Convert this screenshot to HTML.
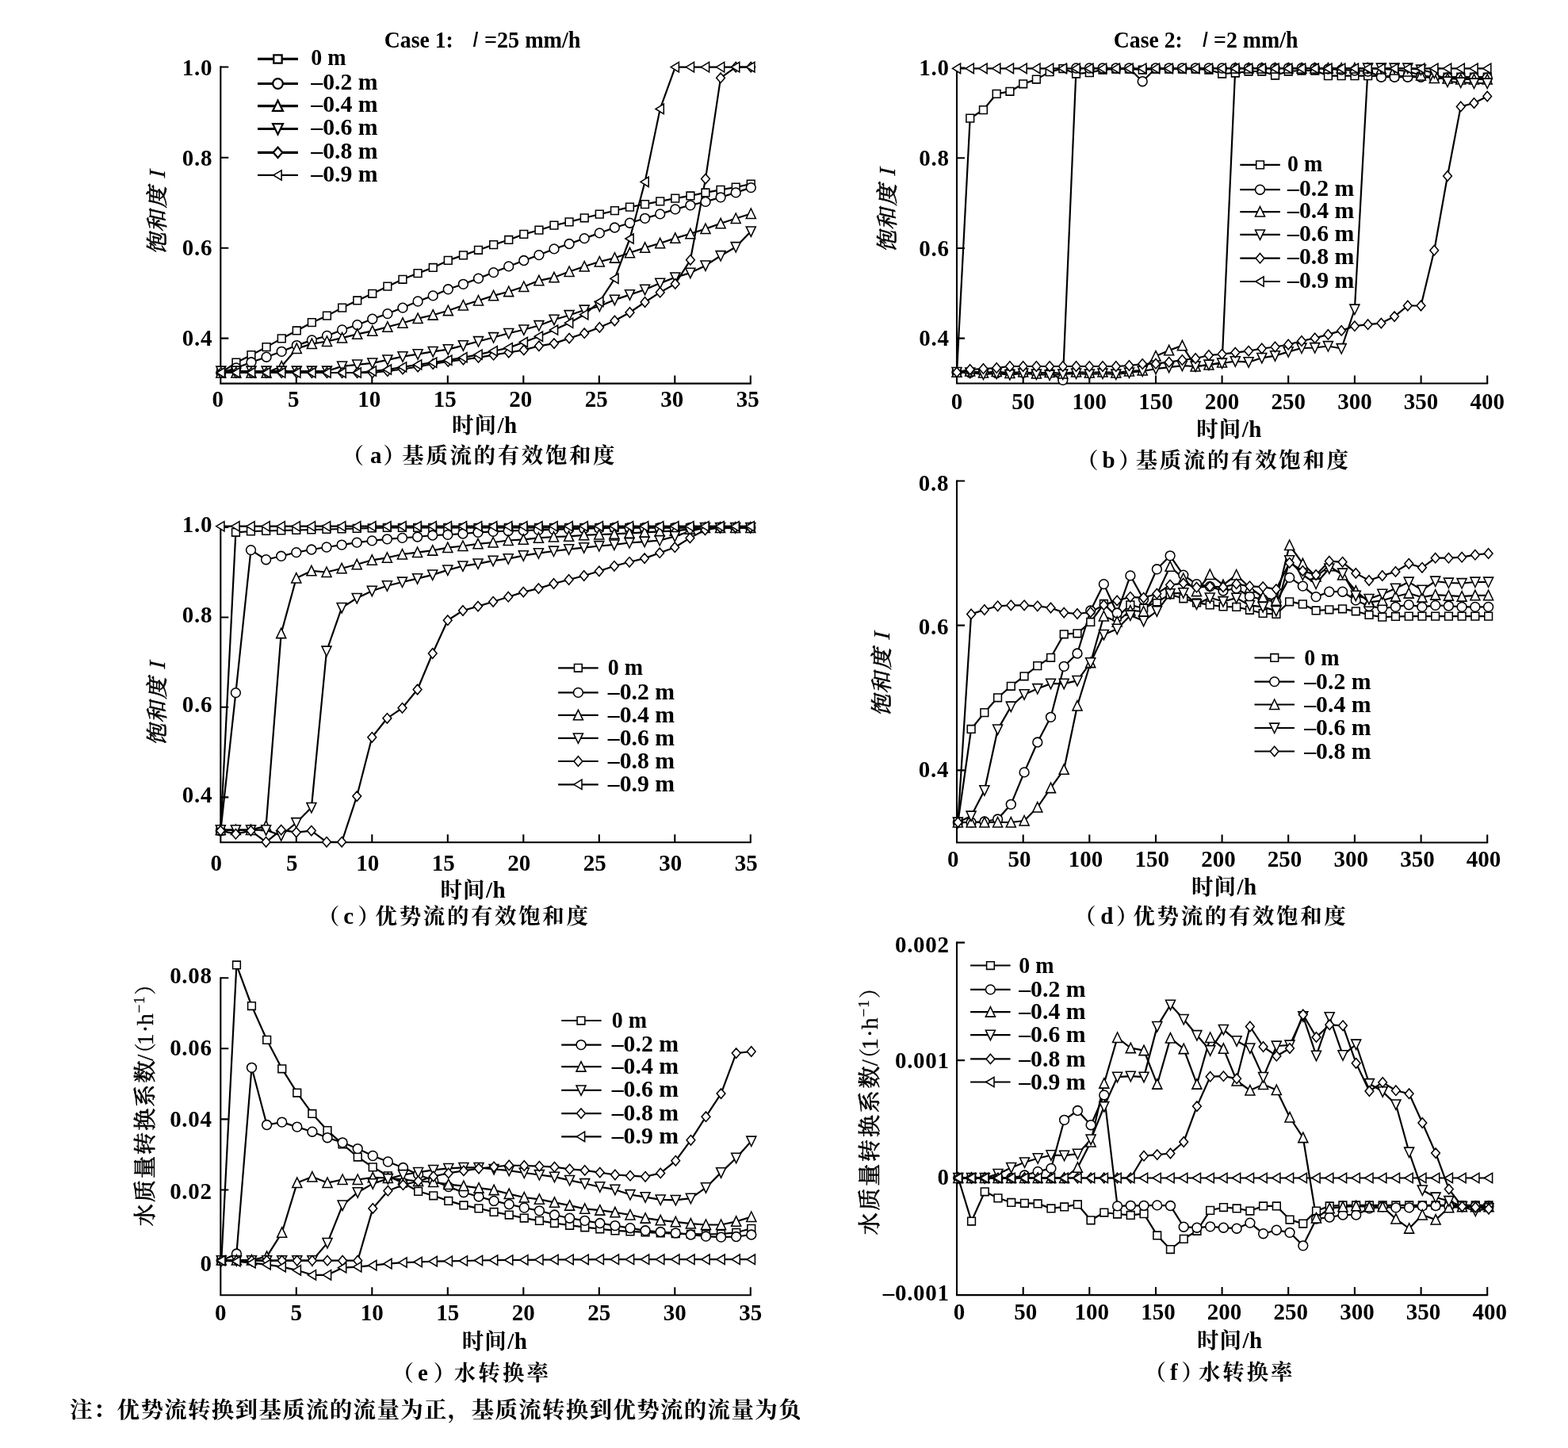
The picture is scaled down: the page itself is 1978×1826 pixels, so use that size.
<!DOCTYPE html>
<html lang="zh"><head><meta charset="utf-8"><title>figure</title><style>
html,body{margin:0;padding:0;background:#fff}
svg{display:block}
.ax{fill:none;stroke:#000;stroke-width:2.1}
.ln{fill:none;stroke:#000;stroke-width:2.2;stroke-linejoin:round}
.lg{fill:none;stroke:#000;stroke-width:2.2}
.lg2{fill:none;stroke:#000;stroke-width:3.2}
.mk.mk2{stroke-width:2.1}
.ls{letter-spacing:.7px}
.mk{fill:#fff;stroke:#000;stroke-width:1.55;stroke-linejoin:miter}
text{fill:#000}
.t{font-family:"Liberation Serif","Noto Serif CJK SC",serif;font-size:29px;font-weight:bold}
.tt{font-family:"Liberation Serif","Noto Serif CJK SC",serif;font-size:29px;font-weight:bold}
.t2{font-family:"Liberation Serif",serif;font-size:29px;font-weight:bold}
.t3{font-family:"Liberation Serif",serif;font-size:29px;font-weight:normal;font-style:normal;stroke:#000;stroke-width:.4px}
.c{font-family:"Liberation Serif","Noto Serif CJK SC",serif;font-size:27.5px;font-weight:bold}
.yl{font-family:"Liberation Serif","Noto Serif CJK SC",serif;font-size:27.5px;font-weight:400;stroke:#000;stroke-width:.7px}
.yk{font-family:"Liberation Serif","Noto Serif CJK SC",serif;font-size:28px;font-weight:400;stroke:#000;stroke-width:.7px}
.yp{font-family:"Noto Serif CJK SC",serif;font-size:27.5px;font-weight:400;stroke-width:.2px}
.t4{font-family:"Liberation Serif",serif;font-size:19px;font-weight:normal;stroke:#000;stroke-width:.3px}
.si{font-family:"Liberation Sans",sans-serif;font-size:27.5px;font-style:italic}
.it{font-family:"Liberation Serif",serif;font-size:29px;font-weight:normal;stroke:#000;stroke-width:.3px}
.m{text-anchor:middle}
.e{text-anchor:end}
</style></head><body>
<svg width="1978" height="1826" viewBox="0 0 1978 1826">
<rect width="1978" height="1826" fill="#fff"/>
<path class="ax" d="M278.3 83.3V483.6H947.8"/>
<path class="ax" d="M373.8 483.6v-10M469.3 483.6v-10M564.8 483.6v-10M660.3 483.6v-10M755.8 483.6v-10M851.3 483.6v-10M946.8 483.6v-10M278.3 84.5h10M278.3 198.7h10M278.3 312.7h10M278.3 426.6h10"/>
<text class="t m" x="274.8" y="512.6">0</text>
<text class="t m" x="370.3" y="512.6">5</text>
<text class="t m" x="465.8" y="512.6">10</text>
<text class="t m" x="561.3" y="512.6">15</text>
<text class="t m" x="656.8" y="512.6">20</text>
<text class="t m" x="752.3" y="512.6">25</text>
<text class="t m" x="847.8" y="512.6">30</text>
<text class="t m" x="943.3" y="512.6">35</text>
<text class="t e ls" x="268.2" y="95">1.0</text>
<text class="t e ls" x="268.2" y="208.6">0.8</text>
<text class="t e ls" x="268.2" y="322.3">0.6</text>
<text class="t e ls" x="268.2" y="435.9">0.4</text>
<polyline class="ln" points="278.8,470 297.9,457.2 317,447.7 336.1,437.6 355.2,426.9 374.3,417 393.4,406.7 412.5,398.2 431.6,388.1 450.7,379 469.8,370.3 488.9,361.2 508,352.3 527.1,344.6 546.2,337.5 565.3,328.4 584.4,321.9 603.5,315.3 622.6,308.6 641.7,302.5 660.8,295.4 679.9,290.2 699,284.2 718.1,279.9 737.2,274.8 756.3,270.2 775.4,265.7 794.5,261.1 813.6,257.5 832.7,253.8 851.8,250.2 870.9,246.9 890,242.9 909.1,239.3 928.2,236 947.3,232"/>
<polyline class="ln" points="278.8,470 297.9,464 317,456.8 336.1,450.2 355.2,443.3 374.3,435.6 393.4,428.9 412.5,423.5 431.6,416 450.7,409.7 469.8,402.2 488.9,395.6 508,388.1 527.1,380 546.2,372.9 565.3,364.8 584.4,358.3 603.5,351.1 622.6,343.6 641.7,335.9 660.8,328.5 679.9,321.6 699,313.9 718.1,307.5 737.2,300.6 756.3,293.9 775.4,287 794.5,281.2 813.6,275.3 832.7,269.9 851.8,263.9 870.9,258.8 890,254.4 909.1,248.8 928.2,242.9 947.3,236.6"/>
<polyline class="ln" points="278.8,470 297.9,470 317,470 336.1,470 355.2,462 374.3,439.6 393.4,433.6 412.5,430.5 431.6,426.1 450.7,421.4 469.8,417.4 488.9,412.3 508,407.3 527.1,401.6 546.2,397.2 565.3,391.7 584.4,385 603.5,379 622.6,372.9 641.7,367.7 660.8,361.5 679.9,353.8 699,349.8 718.1,342.5 737.2,336 756.3,330 775.4,325.2 794.5,318.8 813.6,312.4 832.7,306.8 851.8,300.4 870.9,294.8 890,288.6 909.1,281.8 928.2,275.5 947.3,269.5"/>
<polyline class="ln" points="278.8,468 297.9,468 317,468 336.1,468 355.2,468 374.3,468 393.4,468 412.5,468 431.6,461.9 450.7,459.9 469.8,457.8 488.9,453.8 508,449.7 527.1,446.7 546.2,443.3 565.3,440.6 584.4,435.6 603.5,430.5 622.6,425.5 641.7,420.3 660.8,415.8 679.9,410.5 699,403.2 718.1,397.5 737.2,391 756.3,386.2 775.4,378.1 794.5,371.6 813.6,365.2 832.7,357.1 851.8,349.8 870.9,344.1 890,334.9 909.1,322.5 928.2,311.5 947.3,291.8"/>
<polyline class="ln" points="278.8,470 297.9,470 317,470 336.1,470 355.2,470 374.3,470 393.4,470 412.5,470 431.6,470 450.7,470 469.8,470 488.9,468 508,465.5 527.1,462.5 546.2,459 565.3,455.8 584.4,453.5 603.5,450.8 622.6,447.7 641.7,444.5 660.8,441.4 679.9,436.3 699,433.1 718.1,426.6 737.2,420.2 756.3,412.9 775.4,404.5 794.5,394 813.6,381 832.7,368.7 851.8,357.9 870.9,327.8 890,225.6 909.1,98.2 928.2,84.6 947.3,84.6"/>
<polyline class="ln" points="278.8,470 297.9,470 317,470 336.1,470 355.2,470 374.3,470 393.4,470 412.5,470 431.6,470 450.7,470 469.8,468 488.9,466 508,462.9 527.1,459.9 546.2,457.2 565.3,454.2 584.4,450.8 603.5,447.1 622.6,442.7 641.7,438.6 660.8,431.5 679.9,424.2 699,416.1 718.1,407.2 737.2,396.7 756.3,380.5 775.4,351.4 794.5,301 813.6,229.3 832.7,137.4 851.8,84.6 870.9,84.6 890,84.6 909.1,84.6 928.2,84.6 947.3,84.6"/>
<path class="mk" d="M273.9 465.1h9.7v9.7h-9.7zM293.1 452.3h9.7v9.7h-9.7zM312.1 442.8h9.7v9.7h-9.7zM331.2 432.8h9.7v9.7h-9.7zM350.4 422h9.7v9.7h-9.7zM369.4 412.1h9.7v9.7h-9.7zM388.5 401.8h9.7v9.7h-9.7zM407.6 393.3h9.7v9.7h-9.7zM426.8 383.2h9.7v9.7h-9.7zM445.9 374.1h9.7v9.7h-9.7zM464.9 365.4h9.7v9.7h-9.7zM484 356.3h9.7v9.7h-9.7zM503.1 347.4h9.7v9.7h-9.7zM522.2 339.8h9.7v9.7h-9.7zM541.4 332.6h9.7v9.7h-9.7zM560.4 323.5h9.7v9.7h-9.7zM579.6 317h9.7v9.7h-9.7zM598.6 310.4h9.7v9.7h-9.7zM617.8 303.8h9.7v9.7h-9.7zM636.9 297.6h9.7v9.7h-9.7zM655.9 290.5h9.7v9.7h-9.7zM675.1 285.3h9.7v9.7h-9.7zM694.1 279.3h9.7v9.7h-9.7zM713.2 275h9.7v9.7h-9.7zM732.4 269.9h9.7v9.7h-9.7zM751.4 265.3h9.7v9.7h-9.7zM770.6 260.8h9.7v9.7h-9.7zM789.6 256.2h9.7v9.7h-9.7zM808.7 252.7h9.7v9.7h-9.7zM827.9 249h9.7v9.7h-9.7zM846.9 245.3h9.7v9.7h-9.7zM866.1 242.1h9.7v9.7h-9.7zM885.1 238.1h9.7v9.7h-9.7zM904.2 234.5h9.7v9.7h-9.7zM923.4 231.2h9.7v9.7h-9.7zM942.4 227.2h9.7v9.7h-9.7z"/>
<path class="mk" d="M272.9 470a5.9 5.9 0 1 0 11.8 0a5.9 5.9 0 1 0 -11.8 0zM292 464a5.9 5.9 0 1 0 11.8 0a5.9 5.9 0 1 0 -11.8 0zM311.1 456.8a5.9 5.9 0 1 0 11.8 0a5.9 5.9 0 1 0 -11.8 0zM330.2 450.2a5.9 5.9 0 1 0 11.8 0a5.9 5.9 0 1 0 -11.8 0zM349.3 443.3a5.9 5.9 0 1 0 11.8 0a5.9 5.9 0 1 0 -11.8 0zM368.4 435.6a5.9 5.9 0 1 0 11.8 0a5.9 5.9 0 1 0 -11.8 0zM387.5 428.9a5.9 5.9 0 1 0 11.8 0a5.9 5.9 0 1 0 -11.8 0zM406.6 423.5a5.9 5.9 0 1 0 11.8 0a5.9 5.9 0 1 0 -11.8 0zM425.7 416a5.9 5.9 0 1 0 11.8 0a5.9 5.9 0 1 0 -11.8 0zM444.8 409.7a5.9 5.9 0 1 0 11.8 0a5.9 5.9 0 1 0 -11.8 0zM463.9 402.2a5.9 5.9 0 1 0 11.8 0a5.9 5.9 0 1 0 -11.8 0zM483 395.6a5.9 5.9 0 1 0 11.8 0a5.9 5.9 0 1 0 -11.8 0zM502.1 388.1a5.9 5.9 0 1 0 11.8 0a5.9 5.9 0 1 0 -11.8 0zM521.2 380a5.9 5.9 0 1 0 11.8 0a5.9 5.9 0 1 0 -11.8 0zM540.3 372.9a5.9 5.9 0 1 0 11.8 0a5.9 5.9 0 1 0 -11.8 0zM559.4 364.8a5.9 5.9 0 1 0 11.8 0a5.9 5.9 0 1 0 -11.8 0zM578.5 358.3a5.9 5.9 0 1 0 11.8 0a5.9 5.9 0 1 0 -11.8 0zM597.6 351.1a5.9 5.9 0 1 0 11.8 0a5.9 5.9 0 1 0 -11.8 0zM616.7 343.6a5.9 5.9 0 1 0 11.8 0a5.9 5.9 0 1 0 -11.8 0zM635.8 335.9a5.9 5.9 0 1 0 11.8 0a5.9 5.9 0 1 0 -11.8 0zM654.9 328.5a5.9 5.9 0 1 0 11.8 0a5.9 5.9 0 1 0 -11.8 0zM674 321.6a5.9 5.9 0 1 0 11.8 0a5.9 5.9 0 1 0 -11.8 0zM693.1 313.9a5.9 5.9 0 1 0 11.8 0a5.9 5.9 0 1 0 -11.8 0zM712.2 307.5a5.9 5.9 0 1 0 11.8 0a5.9 5.9 0 1 0 -11.8 0zM731.3 300.6a5.9 5.9 0 1 0 11.8 0a5.9 5.9 0 1 0 -11.8 0zM750.4 293.9a5.9 5.9 0 1 0 11.8 0a5.9 5.9 0 1 0 -11.8 0zM769.5 287a5.9 5.9 0 1 0 11.8 0a5.9 5.9 0 1 0 -11.8 0zM788.6 281.2a5.9 5.9 0 1 0 11.8 0a5.9 5.9 0 1 0 -11.8 0zM807.7 275.3a5.9 5.9 0 1 0 11.8 0a5.9 5.9 0 1 0 -11.8 0zM826.8 269.9a5.9 5.9 0 1 0 11.8 0a5.9 5.9 0 1 0 -11.8 0zM845.9 263.9a5.9 5.9 0 1 0 11.8 0a5.9 5.9 0 1 0 -11.8 0zM865 258.8a5.9 5.9 0 1 0 11.8 0a5.9 5.9 0 1 0 -11.8 0zM884.1 254.4a5.9 5.9 0 1 0 11.8 0a5.9 5.9 0 1 0 -11.8 0zM903.2 248.8a5.9 5.9 0 1 0 11.8 0a5.9 5.9 0 1 0 -11.8 0zM922.3 242.9a5.9 5.9 0 1 0 11.8 0a5.9 5.9 0 1 0 -11.8 0zM941.4 236.6a5.9 5.9 0 1 0 11.8 0a5.9 5.9 0 1 0 -11.8 0z"/>
<path class="mk" d="M278.8 463.5L284.8 475.9L272.8 475.9zM297.9 463.5L303.9 475.9L291.9 475.9zM317 463.5L323 475.9L311 475.9zM336.1 463.5L342.1 475.9L330.1 475.9zM355.2 455.5L361.2 467.9L349.2 467.9zM374.3 433.1L380.3 445.5L368.3 445.5zM393.4 427.1L399.4 439.5L387.4 439.5zM412.5 424L418.5 436.4L406.5 436.4zM431.6 419.6L437.6 432L425.6 432zM450.7 414.9L456.7 427.3L444.7 427.3zM469.8 410.9L475.8 423.3L463.8 423.3zM488.9 405.8L494.9 418.2L482.9 418.2zM508 400.8L514 413.2L502 413.2zM527.1 395.1L533.1 407.5L521.1 407.5zM546.2 390.7L552.2 403.1L540.2 403.1zM565.3 385.2L571.3 397.6L559.3 397.6zM584.4 378.5L590.4 390.9L578.4 390.9zM603.5 372.5L609.5 384.9L597.5 384.9zM622.6 366.4L628.6 378.8L616.6 378.8zM641.7 361.2L647.7 373.6L635.7 373.6zM660.8 355L666.8 367.4L654.8 367.4zM679.9 347.3L685.9 359.7L673.9 359.7zM699 343.3L705 355.7L693 355.7zM718.1 336L724.1 348.4L712.1 348.4zM737.2 329.5L743.2 341.9L731.2 341.9zM756.3 323.5L762.3 335.9L750.3 335.9zM775.4 318.7L781.4 331.1L769.4 331.1zM794.5 312.3L800.5 324.7L788.5 324.7zM813.6 305.9L819.6 318.3L807.6 318.3zM832.7 300.3L838.7 312.7L826.7 312.7zM851.8 293.9L857.8 306.3L845.8 306.3zM870.9 288.3L876.9 300.7L864.9 300.7zM890 282.1L896 294.5L884 294.5zM909.1 275.3L915.1 287.7L903.1 287.7zM928.2 269L934.2 281.4L922.2 281.4zM947.3 263L953.3 275.4L941.3 275.4z"/>
<path class="mk" d="M278.8 474.5L284.8 462.1L272.8 462.1zM297.9 474.5L303.9 462.1L291.9 462.1zM317 474.5L323 462.1L311 462.1zM336.1 474.5L342.1 462.1L330.1 462.1zM355.2 474.5L361.2 462.1L349.2 462.1zM374.3 474.5L380.3 462.1L368.3 462.1zM393.4 474.5L399.4 462.1L387.4 462.1zM412.5 474.5L418.5 462.1L406.5 462.1zM431.6 468.4L437.6 456L425.6 456zM450.7 466.4L456.7 454L444.7 454zM469.8 464.3L475.8 451.9L463.8 451.9zM488.9 460.3L494.9 447.9L482.9 447.9zM508 456.2L514 443.8L502 443.8zM527.1 453.2L533.1 440.8L521.1 440.8zM546.2 449.8L552.2 437.4L540.2 437.4zM565.3 447.1L571.3 434.7L559.3 434.7zM584.4 442.1L590.4 429.7L578.4 429.7zM603.5 437L609.5 424.6L597.5 424.6zM622.6 432L628.6 419.6L616.6 419.6zM641.7 426.8L647.7 414.4L635.7 414.4zM660.8 422.3L666.8 409.9L654.8 409.9zM679.9 417L685.9 404.6L673.9 404.6zM699 409.7L705 397.3L693 397.3zM718.1 404L724.1 391.6L712.1 391.6zM737.2 397.5L743.2 385.1L731.2 385.1zM756.3 392.7L762.3 380.3L750.3 380.3zM775.4 384.6L781.4 372.2L769.4 372.2zM794.5 378.1L800.5 365.7L788.5 365.7zM813.6 371.7L819.6 359.3L807.6 359.3zM832.7 363.6L838.7 351.2L826.7 351.2zM851.8 356.3L857.8 343.9L845.8 343.9zM870.9 350.6L876.9 338.2L864.9 338.2zM890 341.4L896 329L884 329zM909.1 329L915.1 316.6L903.1 316.6zM928.2 318L934.2 305.6L922.2 305.6zM947.3 298.3L953.3 285.9L941.3 285.9z"/>
<path class="mk" d="M278.8 463.8L284.2 470L278.8 476.2L273.4 470zM297.9 463.8L303.3 470L297.9 476.2L292.6 470zM317 463.8L322.4 470L317 476.2L311.6 470zM336.1 463.8L341.5 470L336.1 476.2L330.8 470zM355.2 463.8L360.6 470L355.2 476.2L349.9 470zM374.3 463.8L379.7 470L374.3 476.2L368.9 470zM393.4 463.8L398.8 470L393.4 476.2L388 470zM412.5 463.8L417.9 470L412.5 476.2L407.1 470zM431.6 463.8L437 470L431.6 476.2L426.2 470zM450.7 463.8L456.1 470L450.7 476.2L445.4 470zM469.8 463.8L475.2 470L469.8 476.2L464.4 470zM488.9 461.8L494.2 468L488.9 474.2L483.5 468zM508 459.3L513.4 465.5L508 471.7L502.6 465.5zM527.1 456.3L532.5 462.5L527.1 468.7L521.8 462.5zM546.2 452.8L551.6 459L546.2 465.2L540.9 459zM565.3 449.6L570.6 455.8L565.3 462L559.9 455.8zM584.4 447.3L589.8 453.5L584.4 459.7L579.1 453.5zM603.5 444.6L608.9 450.8L603.5 457L598.1 450.8zM622.6 441.5L628 447.7L622.6 453.9L617.2 447.7zM641.7 438.3L647.1 444.5L641.7 450.7L636.4 444.5zM660.8 435.2L666.1 441.4L660.8 447.6L655.4 441.4zM679.9 430.1L685.3 436.3L679.9 442.5L674.6 436.3zM699 426.9L704.4 433.1L699 439.3L693.6 433.1zM718.1 420.4L723.5 426.6L718.1 432.8L712.8 426.6zM737.2 414L742.6 420.2L737.2 426.4L731.9 420.2zM756.3 406.7L761.6 412.9L756.3 419.1L750.9 412.9zM775.4 398.3L780.8 404.5L775.4 410.7L770.1 404.5zM794.5 387.8L799.9 394L794.5 400.2L789.1 394zM813.6 374.8L818.9 381L813.6 387.2L808.2 381zM832.7 362.5L838.1 368.7L832.7 374.9L827.4 368.7zM851.8 351.7L857.1 357.9L851.8 364.1L846.4 357.9zM870.9 321.6L876.3 327.8L870.9 334L865.6 327.8zM890 219.4L895.4 225.6L890 231.8L884.6 225.6zM909.1 92L914.4 98.2L909.1 104.4L903.7 98.2zM928.2 78.4L933.6 84.6L928.2 90.8L922.9 84.6zM947.3 78.4L952.6 84.6L947.3 90.8L941.9 84.6z"/>
<path class="mk" d="M273.2 470L283.4 463.9L283.4 476.1zM292.3 470L302.5 463.9L302.5 476.1zM311.4 470L321.6 463.9L321.6 476.1zM330.5 470L340.7 463.9L340.7 476.1zM349.6 470L359.8 463.9L359.8 476.1zM368.7 470L378.9 463.9L378.9 476.1zM387.8 470L398 463.9L398 476.1zM406.9 470L417.1 463.9L417.1 476.1zM426 470L436.2 463.9L436.2 476.1zM445.1 470L455.3 463.9L455.3 476.1zM464.2 468L474.4 461.9L474.4 474.1zM483.3 466L493.5 459.9L493.5 472.1zM502.4 462.9L512.6 456.8L512.6 469zM521.5 459.9L531.7 453.8L531.7 466zM540.6 457.2L550.8 451.1L550.8 463.3zM559.7 454.2L569.9 448.1L569.9 460.3zM578.8 450.8L589 444.7L589 456.9zM597.9 447.1L608.1 441L608.1 453.2zM617 442.7L627.2 436.6L627.2 448.8zM636.1 438.6L646.3 432.5L646.3 444.8zM655.2 431.5L665.4 425.4L665.4 437.6zM674.3 424.2L684.5 418.1L684.5 430.3zM693.4 416.1L703.6 410L703.6 422.2zM712.5 407.2L722.7 401.1L722.7 413.3zM731.6 396.7L741.8 390.6L741.8 402.8zM750.7 380.5L760.9 374.4L760.9 386.6zM769.8 351.4L780 345.2L780 357.5zM788.9 301L799.1 294.9L799.1 307.1zM808 229.3L818.2 223.2L818.2 235.5zM827.1 137.4L837.3 131.2L837.3 143.6zM846.2 84.6L856.4 78.4L856.4 90.8zM865.3 84.6L875.5 78.4L875.5 90.8zM884.4 84.6L894.6 78.4L894.6 90.8zM903.5 84.6L913.7 78.4L913.7 90.8zM922.6 84.6L932.8 78.4L932.8 90.8zM941.7 84.6L951.9 78.4L951.9 90.8z"/>
<line class="lg2" x1="325" y1="74.4" x2="375.9" y2="74.4"/>
<path class="mk mk2" transform="translate(350.5 74.4) scale(1.07) translate(-350.5 -74.4)" d="M345.6 69.6h9.7v9.7h-9.7z"/>
<text class="t" x="392.3" y="82.1" textLength="44.3" lengthAdjust="spacingAndGlyphs">0 m</text>
<line class="lg2" x1="325" y1="105.5" x2="375.9" y2="105.5"/>
<path class="mk mk2" transform="translate(350.5 105.5) scale(1.07) translate(-350.5 -105.5)" d="M344.6 105.5a5.9 5.9 0 1 0 11.8 0a5.9 5.9 0 1 0 -11.8 0z"/>
<text class="t" x="392.3" y="113.2" textLength="84.3" lengthAdjust="spacingAndGlyphs">–0.2 m</text>
<line class="lg2" x1="325" y1="133.6" x2="375.9" y2="133.6"/>
<path class="mk mk2" transform="translate(350.5 133.6) scale(1.07) translate(-350.5 -133.6)" d="M350.5 127.1L356.5 139.5L344.5 139.5z"/>
<text class="t" x="392.3" y="141.3" textLength="84.3" lengthAdjust="spacingAndGlyphs">–0.4 m</text>
<line class="lg2" x1="325" y1="162.5" x2="375.9" y2="162.5"/>
<path class="mk mk2" transform="translate(350.5 162.5) scale(1.07) translate(-350.5 -162.5)" d="M350.5 169L356.5 156.6L344.5 156.6z"/>
<text class="t" x="392.3" y="170.2" textLength="84.3" lengthAdjust="spacingAndGlyphs">–0.6 m</text>
<line class="lg2" x1="325" y1="192.3" x2="375.9" y2="192.3"/>
<path class="mk mk2" transform="translate(350.5 192.3) scale(1.07) translate(-350.5 -192.3)" d="M350.5 186.1L355.9 192.3L350.5 198.5L345.1 192.3z"/>
<text class="t" x="392.3" y="200" textLength="84.3" lengthAdjust="spacingAndGlyphs">–0.8 m</text>
<line class="lg" x1="325" y1="220.9" x2="375.9" y2="220.9"/>
<path class="mk" d="M344.9 220.9L355.1 214.8L355.1 227.1z"/>
<text class="t" x="392.3" y="228.6" textLength="84.3" lengthAdjust="spacingAndGlyphs">–0.9 m</text>
<text class="tt" x="484.8" y="59.7" textLength="87" lengthAdjust="spacingAndGlyphs">Case 1:</text>
<text class="si" x="595.8" y="59.3">I</text>
<text class="tt" x="611" y="59.7" textLength="121.5" lengthAdjust="spacingAndGlyphs">=25 mm/h</text>
<text class="yl" transform="translate(207.8 321) rotate(-90) skewX(-13)" x="0 28.6 58.5 95.5">饱和度<tspan class="it">I</tspan></text>
<text class="c" y="546.3" x="570 598.5 627.5 636">时间<tspan class="t2">/h</tspan></text>
<text class="c" y="583.8" x="431.5 467 483.5">（<tspan class="t2">a</tspan>）</text>
<text class="c" y="583.8" x="507.3 537.4 567.5 597.6 627.7 657.8 687.9 718 748.1">基质流的有效饱和度</text>
<path class="ax" d="M1207 84.5V483.5H1877.2"/>
<path class="ax" d="M1290.7 483.5v-10M1374.3 483.5v-10M1458 483.5v-10M1541.6 483.5v-10M1625.2 483.5v-10M1708.9 483.5v-10M1792.6 483.5v-10M1876.2 483.5v-10M1207 85.5h10M1207 199.2h10M1207 313h10M1207 426.6h10"/>
<text class="t m" x="1207" y="515.7">0</text>
<text class="t m" x="1290.7" y="515.7">50</text>
<text class="t m" x="1374.3" y="515.7">100</text>
<text class="t m" x="1458" y="515.7">150</text>
<text class="t m" x="1541.6" y="515.7">200</text>
<text class="t m" x="1625.2" y="515.7">250</text>
<text class="t m" x="1708.9" y="515.7">300</text>
<text class="t m" x="1792.6" y="515.7">350</text>
<text class="t m" x="1876.2" y="515.7">400</text>
<text class="t e ls" x="1197.7" y="95.4">1.0</text>
<text class="t e ls" x="1197.7" y="209.1">0.8</text>
<text class="t e ls" x="1197.7" y="322.7">0.6</text>
<text class="t e ls" x="1197.7" y="436.4">0.4</text>
<polyline class="ln" points="1207,469.4 1223.7,149.2 1240.5,138.5 1257.2,118.3 1273.9,115.2 1290.7,105.7 1307.4,100.1 1324.1,90.6 1340.8,86.5 1357.6,93 1374.3,91.6 1391,88 1407.8,87 1424.5,87 1441.2,88 1458,87 1474.7,87 1491.4,87 1508.1,87 1524.9,88 1541.6,93 1558.3,92 1575.1,90 1591.8,90 1608.5,95 1625.2,90 1642,89 1658.7,89 1675.4,95.6 1692.2,95.6 1708.9,95.6 1725.6,95.6 1742.4,96 1759.1,96 1775.8,96 1792.5,96 1809.3,96.5 1826,97 1842.7,97 1859.5,97 1876.2,97"/>
<polyline class="ln" points="1207,469.4 1223.7,470 1240.5,469.5 1257.2,470.5 1273.9,469.5 1290.7,470 1307.4,470.5 1324.1,470 1340.8,479.3 1357.6,86 1374.3,86 1391,86 1407.8,86 1424.5,86 1441.2,102.7 1458,86 1474.7,86 1491.4,86 1508.1,86 1524.9,86 1541.6,86 1558.3,86 1575.1,86 1591.8,86 1608.5,86 1625.2,86 1642,86 1658.7,86 1675.4,87 1692.2,88 1708.9,89 1725.6,90 1742.4,97.2 1759.1,97.2 1775.8,97.2 1792.5,97.2 1809.3,98 1826,98 1842.7,98 1859.5,98 1876.2,98"/>
<polyline class="ln" points="1207,469.4 1223.7,468 1240.5,470 1257.2,468.5 1273.9,470.5 1290.7,469 1307.4,471 1324.1,469.5 1340.8,471 1357.6,469 1374.3,470 1391,469 1407.8,470 1424.5,468 1441.2,467 1458,449 1474.7,441.9 1491.4,435.8 1508.1,462.1 1524.9,460.1 1541.6,457.1 1558.3,86 1575.1,86 1591.8,86 1608.5,86 1625.2,86 1642,86 1658.7,86 1675.4,86 1692.2,86 1708.9,86 1725.6,86 1742.4,87 1759.1,88 1775.8,90 1792.5,95 1809.3,98.6 1826,99 1842.7,100 1859.5,100 1876.2,100"/>
<polyline class="ln" points="1207,469.4 1223.7,470 1240.5,472 1257.2,471 1273.9,472.5 1290.7,471 1307.4,472 1324.1,473 1340.8,472 1357.6,471 1374.3,472 1391,471 1407.8,472 1424.5,470 1441.2,468 1458,465.2 1474.7,463.1 1491.4,461.1 1508.1,462 1524.9,460 1541.6,458 1558.3,455.7 1575.1,456.7 1591.8,451.3 1608.5,448.6 1625.2,443.6 1642,439 1658.7,438.5 1675.4,436.5 1692.2,439.5 1708.9,390 1725.6,86 1742.4,86 1759.1,86 1775.8,86 1792.5,88 1809.3,92 1826,103 1842.7,104 1859.5,105 1876.2,105"/>
<polyline class="ln" points="1207,469.4 1223.7,466 1240.5,465 1257.2,464 1273.9,462 1290.7,462 1307.4,462 1324.1,462 1340.8,462 1357.6,462 1374.3,462 1391,462 1407.8,462 1424.5,461 1441.2,459 1458,458.7 1474.7,456.7 1491.4,454 1508.1,452 1524.9,448 1541.6,446.6 1558.3,444.6 1575.1,442.6 1591.8,439.5 1608.5,437.5 1625.2,434.5 1642,430 1658.7,426.4 1675.4,421.9 1692.2,416.9 1708.9,411.2 1725.6,409.2 1742.4,407.6 1759.1,399.1 1775.8,385.5 1792.5,385.5 1809.3,315.7 1826,222 1842.7,134.4 1859.5,130 1876.2,121.5"/>
<polyline class="ln" points="1207,86.3 1223.7,86.3 1240.5,86.3 1257.2,86.3 1273.9,86.3 1290.7,86.3 1307.4,86.3 1324.1,86.3 1340.8,86.3 1357.6,86.3 1374.3,86.3 1391,86.3 1407.8,86.3 1424.5,86.3 1441.2,86.3 1458,86.3 1474.7,86.3 1491.4,86.3 1508.1,86.3 1524.9,86.3 1541.6,86.3 1558.3,86.3 1575.1,86.3 1591.8,86.3 1608.5,86.3 1625.2,86.3 1642,86.3 1658.7,86.3 1675.4,86.3 1692.2,86.3 1708.9,86.3 1725.6,86.3 1742.4,86.3 1759.1,86.3 1775.8,86.3 1792.5,86.3 1809.3,86.3 1826,86.3 1842.7,86.3 1859.5,86.3 1876.2,86.3"/>
<path class="mk" d="M1202.2 464.5h9.7v9.7h-9.7zM1218.9 144.3h9.7v9.7h-9.7zM1235.6 133.7h9.7v9.7h-9.7zM1252.3 113.5h9.7v9.7h-9.7zM1269.1 110.4h9.7v9.7h-9.7zM1285.8 100.9h9.7v9.7h-9.7zM1302.5 95.2h9.7v9.7h-9.7zM1319.3 85.8h9.7v9.7h-9.7zM1336 81.7h9.7v9.7h-9.7zM1352.7 88.2h9.7v9.7h-9.7zM1369.5 86.8h9.7v9.7h-9.7zM1386.2 83.2h9.7v9.7h-9.7zM1402.9 82.2h9.7v9.7h-9.7zM1419.6 82.2h9.7v9.7h-9.7zM1436.4 83.2h9.7v9.7h-9.7zM1453.1 82.2h9.7v9.7h-9.7zM1469.8 82.2h9.7v9.7h-9.7zM1486.6 82.2h9.7v9.7h-9.7zM1503.3 82.2h9.7v9.7h-9.7zM1520 83.2h9.7v9.7h-9.7zM1536.8 88.2h9.7v9.7h-9.7zM1553.5 87.2h9.7v9.7h-9.7zM1570.2 85.2h9.7v9.7h-9.7zM1586.9 85.2h9.7v9.7h-9.7zM1603.7 90.2h9.7v9.7h-9.7zM1620.4 85.2h9.7v9.7h-9.7zM1637.1 84.2h9.7v9.7h-9.7zM1653.9 84.2h9.7v9.7h-9.7zM1670.6 90.8h9.7v9.7h-9.7zM1687.3 90.8h9.7v9.7h-9.7zM1704.1 90.8h9.7v9.7h-9.7zM1720.8 90.8h9.7v9.7h-9.7zM1737.5 91.2h9.7v9.7h-9.7zM1754.2 91.2h9.7v9.7h-9.7zM1771 91.2h9.7v9.7h-9.7zM1787.7 91.2h9.7v9.7h-9.7zM1804.4 91.7h9.7v9.7h-9.7zM1821.2 92.2h9.7v9.7h-9.7zM1837.9 92.2h9.7v9.7h-9.7zM1854.6 92.2h9.7v9.7h-9.7zM1871.4 92.2h9.7v9.7h-9.7z"/>
<path class="mk" d="M1201.1 469.4a5.9 5.9 0 1 0 11.8 0a5.9 5.9 0 1 0 -11.8 0zM1217.8 470a5.9 5.9 0 1 0 11.8 0a5.9 5.9 0 1 0 -11.8 0zM1234.6 469.5a5.9 5.9 0 1 0 11.8 0a5.9 5.9 0 1 0 -11.8 0zM1251.3 470.5a5.9 5.9 0 1 0 11.8 0a5.9 5.9 0 1 0 -11.8 0zM1268 469.5a5.9 5.9 0 1 0 11.8 0a5.9 5.9 0 1 0 -11.8 0zM1284.8 470a5.9 5.9 0 1 0 11.8 0a5.9 5.9 0 1 0 -11.8 0zM1301.5 470.5a5.9 5.9 0 1 0 11.8 0a5.9 5.9 0 1 0 -11.8 0zM1318.2 470a5.9 5.9 0 1 0 11.8 0a5.9 5.9 0 1 0 -11.8 0zM1334.9 479.3a5.9 5.9 0 1 0 11.8 0a5.9 5.9 0 1 0 -11.8 0zM1351.7 86a5.9 5.9 0 1 0 11.8 0a5.9 5.9 0 1 0 -11.8 0zM1368.4 86a5.9 5.9 0 1 0 11.8 0a5.9 5.9 0 1 0 -11.8 0zM1385.1 86a5.9 5.9 0 1 0 11.8 0a5.9 5.9 0 1 0 -11.8 0zM1401.9 86a5.9 5.9 0 1 0 11.8 0a5.9 5.9 0 1 0 -11.8 0zM1418.6 86a5.9 5.9 0 1 0 11.8 0a5.9 5.9 0 1 0 -11.8 0zM1435.3 102.7a5.9 5.9 0 1 0 11.8 0a5.9 5.9 0 1 0 -11.8 0zM1452 86a5.9 5.9 0 1 0 11.8 0a5.9 5.9 0 1 0 -11.8 0zM1468.8 86a5.9 5.9 0 1 0 11.8 0a5.9 5.9 0 1 0 -11.8 0zM1485.5 86a5.9 5.9 0 1 0 11.8 0a5.9 5.9 0 1 0 -11.8 0zM1502.2 86a5.9 5.9 0 1 0 11.8 0a5.9 5.9 0 1 0 -11.8 0zM1519 86a5.9 5.9 0 1 0 11.8 0a5.9 5.9 0 1 0 -11.8 0zM1535.7 86a5.9 5.9 0 1 0 11.8 0a5.9 5.9 0 1 0 -11.8 0zM1552.4 86a5.9 5.9 0 1 0 11.8 0a5.9 5.9 0 1 0 -11.8 0zM1569.2 86a5.9 5.9 0 1 0 11.8 0a5.9 5.9 0 1 0 -11.8 0zM1585.9 86a5.9 5.9 0 1 0 11.8 0a5.9 5.9 0 1 0 -11.8 0zM1602.6 86a5.9 5.9 0 1 0 11.8 0a5.9 5.9 0 1 0 -11.8 0zM1619.3 86a5.9 5.9 0 1 0 11.8 0a5.9 5.9 0 1 0 -11.8 0zM1636.1 86a5.9 5.9 0 1 0 11.8 0a5.9 5.9 0 1 0 -11.8 0zM1652.8 86a5.9 5.9 0 1 0 11.8 0a5.9 5.9 0 1 0 -11.8 0zM1669.5 87a5.9 5.9 0 1 0 11.8 0a5.9 5.9 0 1 0 -11.8 0zM1686.3 88a5.9 5.9 0 1 0 11.8 0a5.9 5.9 0 1 0 -11.8 0zM1703 89a5.9 5.9 0 1 0 11.8 0a5.9 5.9 0 1 0 -11.8 0zM1719.7 90a5.9 5.9 0 1 0 11.8 0a5.9 5.9 0 1 0 -11.8 0zM1736.5 97.2a5.9 5.9 0 1 0 11.8 0a5.9 5.9 0 1 0 -11.8 0zM1753.2 97.2a5.9 5.9 0 1 0 11.8 0a5.9 5.9 0 1 0 -11.8 0zM1769.9 97.2a5.9 5.9 0 1 0 11.8 0a5.9 5.9 0 1 0 -11.8 0zM1786.6 97.2a5.9 5.9 0 1 0 11.8 0a5.9 5.9 0 1 0 -11.8 0zM1803.4 98a5.9 5.9 0 1 0 11.8 0a5.9 5.9 0 1 0 -11.8 0zM1820.1 98a5.9 5.9 0 1 0 11.8 0a5.9 5.9 0 1 0 -11.8 0zM1836.8 98a5.9 5.9 0 1 0 11.8 0a5.9 5.9 0 1 0 -11.8 0zM1853.6 98a5.9 5.9 0 1 0 11.8 0a5.9 5.9 0 1 0 -11.8 0zM1870.3 98a5.9 5.9 0 1 0 11.8 0a5.9 5.9 0 1 0 -11.8 0z"/>
<path class="mk" d="M1207 462.9L1213 475.3L1201 475.3zM1223.7 461.5L1229.7 473.9L1217.7 473.9zM1240.5 463.5L1246.5 475.9L1234.5 475.9zM1257.2 462L1263.2 474.4L1251.2 474.4zM1273.9 464L1279.9 476.4L1267.9 476.4zM1290.7 462.5L1296.7 474.9L1284.7 474.9zM1307.4 464.5L1313.4 476.9L1301.4 476.9zM1324.1 463L1330.1 475.4L1318.1 475.4zM1340.8 464.5L1346.8 476.9L1334.8 476.9zM1357.6 462.5L1363.6 474.9L1351.6 474.9zM1374.3 463.5L1380.3 475.9L1368.3 475.9zM1391 462.5L1397 474.9L1385 474.9zM1407.8 463.5L1413.8 475.9L1401.8 475.9zM1424.5 461.5L1430.5 473.9L1418.5 473.9zM1441.2 460.5L1447.2 472.9L1435.2 472.9zM1458 442.5L1464 454.9L1452 454.9zM1474.7 435.4L1480.7 447.8L1468.7 447.8zM1491.4 429.3L1497.4 441.7L1485.4 441.7zM1508.1 455.6L1514.1 468L1502.1 468zM1524.9 453.6L1530.9 466L1518.9 466zM1541.6 450.6L1547.6 463L1535.6 463zM1558.3 79.5L1564.3 91.9L1552.3 91.9zM1575.1 79.5L1581.1 91.9L1569.1 91.9zM1591.8 79.5L1597.8 91.9L1585.8 91.9zM1608.5 79.5L1614.5 91.9L1602.5 91.9zM1625.2 79.5L1631.2 91.9L1619.2 91.9zM1642 79.5L1648 91.9L1636 91.9zM1658.7 79.5L1664.7 91.9L1652.7 91.9zM1675.4 79.5L1681.4 91.9L1669.4 91.9zM1692.2 79.5L1698.2 91.9L1686.2 91.9zM1708.9 79.5L1714.9 91.9L1702.9 91.9zM1725.6 79.5L1731.6 91.9L1719.6 91.9zM1742.4 80.5L1748.4 92.9L1736.4 92.9zM1759.1 81.5L1765.1 93.9L1753.1 93.9zM1775.8 83.5L1781.8 95.9L1769.8 95.9zM1792.5 88.5L1798.5 100.9L1786.5 100.9zM1809.3 92.1L1815.3 104.5L1803.3 104.5zM1826 92.5L1832 104.9L1820 104.9zM1842.7 93.5L1848.7 105.9L1836.7 105.9zM1859.5 93.5L1865.5 105.9L1853.5 105.9zM1876.2 93.5L1882.2 105.9L1870.2 105.9z"/>
<path class="mk" d="M1207 475.9L1213 463.5L1201 463.5zM1223.7 476.5L1229.7 464.1L1217.7 464.1zM1240.5 478.5L1246.5 466.1L1234.5 466.1zM1257.2 477.5L1263.2 465.1L1251.2 465.1zM1273.9 479L1279.9 466.6L1267.9 466.6zM1290.7 477.5L1296.7 465.1L1284.7 465.1zM1307.4 478.5L1313.4 466.1L1301.4 466.1zM1324.1 479.5L1330.1 467.1L1318.1 467.1zM1340.8 478.5L1346.8 466.1L1334.8 466.1zM1357.6 477.5L1363.6 465.1L1351.6 465.1zM1374.3 478.5L1380.3 466.1L1368.3 466.1zM1391 477.5L1397 465.1L1385 465.1zM1407.8 478.5L1413.8 466.1L1401.8 466.1zM1424.5 476.5L1430.5 464.1L1418.5 464.1zM1441.2 474.5L1447.2 462.1L1435.2 462.1zM1458 471.7L1464 459.3L1452 459.3zM1474.7 469.6L1480.7 457.2L1468.7 457.2zM1491.4 467.6L1497.4 455.2L1485.4 455.2zM1508.1 468.5L1514.1 456.1L1502.1 456.1zM1524.9 466.5L1530.9 454.1L1518.9 454.1zM1541.6 464.5L1547.6 452.1L1535.6 452.1zM1558.3 462.2L1564.3 449.8L1552.3 449.8zM1575.1 463.2L1581.1 450.8L1569.1 450.8zM1591.8 457.8L1597.8 445.4L1585.8 445.4zM1608.5 455.1L1614.5 442.7L1602.5 442.7zM1625.2 450.1L1631.2 437.7L1619.2 437.7zM1642 445.5L1648 433.1L1636 433.1zM1658.7 445L1664.7 432.6L1652.7 432.6zM1675.4 443L1681.4 430.6L1669.4 430.6zM1692.2 446L1698.2 433.6L1686.2 433.6zM1708.9 396.5L1714.9 384.1L1702.9 384.1zM1725.6 92.5L1731.6 80.1L1719.6 80.1zM1742.4 92.5L1748.4 80.1L1736.4 80.1zM1759.1 92.5L1765.1 80.1L1753.1 80.1zM1775.8 92.5L1781.8 80.1L1769.8 80.1zM1792.5 94.5L1798.5 82.1L1786.5 82.1zM1809.3 98.5L1815.3 86.1L1803.3 86.1zM1826 109.5L1832 97.1L1820 97.1zM1842.7 110.5L1848.7 98.1L1836.7 98.1zM1859.5 111.5L1865.5 99.1L1853.5 99.1zM1876.2 111.5L1882.2 99.1L1870.2 99.1z"/>
<path class="mk" d="M1207 463.2L1212.3 469.4L1207 475.6L1201.7 469.4zM1223.7 459.8L1229.1 466L1223.7 472.2L1218.4 466zM1240.5 458.8L1245.8 465L1240.5 471.2L1235.1 465zM1257.2 457.8L1262.5 464L1257.2 470.2L1251.8 464zM1273.9 455.8L1279.3 462L1273.9 468.2L1268.6 462zM1290.7 455.8L1296 462L1290.7 468.2L1285.3 462zM1307.4 455.8L1312.7 462L1307.4 468.2L1302 462zM1324.1 455.8L1329.5 462L1324.1 468.2L1318.8 462zM1340.8 455.8L1346.2 462L1340.8 468.2L1335.5 462zM1357.6 455.8L1362.9 462L1357.6 468.2L1352.2 462zM1374.3 455.8L1379.6 462L1374.3 468.2L1369 462zM1391 455.8L1396.4 462L1391 468.2L1385.7 462zM1407.8 455.8L1413.1 462L1407.8 468.2L1402.4 462zM1424.5 454.8L1429.8 461L1424.5 467.2L1419.1 461zM1441.2 452.8L1446.6 459L1441.2 465.2L1435.9 459zM1458 452.5L1463.3 458.7L1458 464.9L1452.6 458.7zM1474.7 450.5L1480 456.7L1474.7 462.9L1469.3 456.7zM1491.4 447.8L1496.8 454L1491.4 460.2L1486.1 454zM1508.1 445.8L1513.5 452L1508.1 458.2L1502.8 452zM1524.9 441.8L1530.2 448L1524.9 454.2L1519.5 448zM1541.6 440.4L1546.9 446.6L1541.6 452.8L1536.2 446.6zM1558.3 438.4L1563.7 444.6L1558.3 450.8L1553 444.6zM1575.1 436.4L1580.4 442.6L1575.1 448.8L1569.7 442.6zM1591.8 433.3L1597.1 439.5L1591.8 445.7L1586.4 439.5zM1608.5 431.3L1613.9 437.5L1608.5 443.7L1603.2 437.5zM1625.2 428.3L1630.6 434.5L1625.2 440.7L1619.9 434.5zM1642 423.8L1647.3 430L1642 436.2L1636.6 430zM1658.7 420.2L1664.1 426.4L1658.7 432.6L1653.4 426.4zM1675.4 415.7L1680.8 421.9L1675.4 428.1L1670.1 421.9zM1692.2 410.7L1697.5 416.9L1692.2 423.1L1686.8 416.9zM1708.9 405L1714.2 411.2L1708.9 417.4L1703.6 411.2zM1725.6 403L1731 409.2L1725.6 415.4L1720.3 409.2zM1742.4 401.4L1747.7 407.6L1742.4 413.8L1737 407.6zM1759.1 392.9L1764.4 399.1L1759.1 405.3L1753.7 399.1zM1775.8 379.3L1781.2 385.5L1775.8 391.7L1770.5 385.5zM1792.5 379.3L1797.9 385.5L1792.5 391.7L1787.2 385.5zM1809.3 309.5L1814.6 315.7L1809.3 321.9L1803.9 315.7zM1826 215.8L1831.4 222L1826 228.2L1820.7 222zM1842.7 128.2L1848.1 134.4L1842.7 140.6L1837.4 134.4zM1859.5 123.8L1864.8 130L1859.5 136.2L1854.1 130zM1876.2 115.3L1881.5 121.5L1876.2 127.7L1870.9 121.5z"/>
<path class="mk" d="M1201.4 86.3L1211.6 80.1L1211.6 92.5zM1218.1 86.3L1228.3 80.1L1228.3 92.5zM1234.9 86.3L1245.1 80.1L1245.1 92.5zM1251.6 86.3L1261.8 80.1L1261.8 92.5zM1268.3 86.3L1278.5 80.1L1278.5 92.5zM1285.1 86.3L1295.2 80.1L1295.2 92.5zM1301.8 86.3L1312 80.1L1312 92.5zM1318.5 86.3L1328.7 80.1L1328.7 92.5zM1335.2 86.3L1345.4 80.1L1345.4 92.5zM1352 86.3L1362.2 80.1L1362.2 92.5zM1368.7 86.3L1378.9 80.1L1378.9 92.5zM1385.4 86.3L1395.6 80.1L1395.6 92.5zM1402.2 86.3L1412.4 80.1L1412.4 92.5zM1418.9 86.3L1429.1 80.1L1429.1 92.5zM1435.6 86.3L1445.8 80.1L1445.8 92.5zM1452.4 86.3L1462.5 80.1L1462.5 92.5zM1469.1 86.3L1479.3 80.1L1479.3 92.5zM1485.8 86.3L1496 80.1L1496 92.5zM1502.5 86.3L1512.7 80.1L1512.7 92.5zM1519.3 86.3L1529.5 80.1L1529.5 92.5zM1536 86.3L1546.2 80.1L1546.2 92.5zM1552.7 86.3L1562.9 80.1L1562.9 92.5zM1569.5 86.3L1579.7 80.1L1579.7 92.5zM1586.2 86.3L1596.4 80.1L1596.4 92.5zM1602.9 86.3L1613.1 80.1L1613.1 92.5zM1619.7 86.3L1629.8 80.1L1629.8 92.5zM1636.4 86.3L1646.6 80.1L1646.6 92.5zM1653.1 86.3L1663.3 80.1L1663.3 92.5zM1669.8 86.3L1680 80.1L1680 92.5zM1686.6 86.3L1696.8 80.1L1696.8 92.5zM1703.3 86.3L1713.5 80.1L1713.5 92.5zM1720 86.3L1730.2 80.1L1730.2 92.5zM1736.8 86.3L1747 80.1L1747 92.5zM1753.5 86.3L1763.7 80.1L1763.7 92.5zM1770.2 86.3L1780.4 80.1L1780.4 92.5zM1787 86.3L1797.1 80.1L1797.1 92.5zM1803.7 86.3L1813.9 80.1L1813.9 92.5zM1820.4 86.3L1830.6 80.1L1830.6 92.5zM1837.1 86.3L1847.3 80.1L1847.3 92.5zM1853.9 86.3L1864.1 80.1L1864.1 92.5zM1870.6 86.3L1880.8 80.1L1880.8 92.5z"/>
<line class="lg" x1="1564.3" y1="207.8" x2="1614.8" y2="207.8"/>
<path class="mk" d="M1584.7 203h9.7v9.7h-9.7z"/>
<text class="t" x="1624" y="215.5" textLength="44.3" lengthAdjust="spacingAndGlyphs">0 m</text>
<line class="lg" x1="1564.3" y1="239.2" x2="1614.8" y2="239.2"/>
<path class="mk" d="M1583.6 239.2a5.9 5.9 0 1 0 11.8 0a5.9 5.9 0 1 0 -11.8 0z"/>
<text class="t" x="1624" y="246.9" textLength="84.3" lengthAdjust="spacingAndGlyphs">–0.2 m</text>
<line class="lg" x1="1564.3" y1="267.1" x2="1614.8" y2="267.1"/>
<path class="mk" d="M1589.5 260.6L1595.5 273L1583.5 273z"/>
<text class="t" x="1624" y="274.8" textLength="84.3" lengthAdjust="spacingAndGlyphs">–0.4 m</text>
<line class="lg" x1="1564.3" y1="295.8" x2="1614.8" y2="295.8"/>
<path class="mk" d="M1589.5 302.3L1595.5 289.9L1583.5 289.9z"/>
<text class="t" x="1624" y="303.5" textLength="84.3" lengthAdjust="spacingAndGlyphs">–0.6 m</text>
<line class="lg" x1="1564.3" y1="325.7" x2="1614.8" y2="325.7"/>
<path class="mk" d="M1589.5 319.5L1594.8 325.7L1589.5 331.9L1584.2 325.7z"/>
<text class="t" x="1624" y="333.4" textLength="84.3" lengthAdjust="spacingAndGlyphs">–0.8 m</text>
<line class="lg" x1="1564.3" y1="355" x2="1614.8" y2="355"/>
<path class="mk" d="M1583.9 355L1594.1 348.9L1594.1 361.1z"/>
<text class="t" x="1624" y="362.7" textLength="84.3" lengthAdjust="spacingAndGlyphs">–0.9 m</text>
<text class="tt" x="1404.8" y="59.7" textLength="87" lengthAdjust="spacingAndGlyphs">Case 2:</text>
<text class="si" x="1516.2" y="59.3">I</text>
<text class="tt" x="1531" y="59.7" textLength="106.5" lengthAdjust="spacingAndGlyphs">=2 mm/h</text>
<text class="yl" transform="translate(1128.6 318.3) rotate(-90) skewX(-13)" x="0 28.6 58.5 95.5">饱和度<tspan class="it">I</tspan></text>
<text class="c" y="551.3" x="1509.2 1537.7 1566.7 1575.2">时间<tspan class="t2">/h</tspan></text>
<text class="c" y="589.6" x="1358 1390.5 1411.3">（<tspan class="t2">b</tspan>）</text>
<text class="c" y="589.6" x="1432.7 1462.8 1492.9 1523 1553.1 1583.2 1613.3 1643.4 1673.5">基质流的有效饱和度</text>
<path class="ax" d="M278.3 664V1062.3H947.8"/>
<path class="ax" d="M373.8 1062.3v-10M469.3 1062.3v-10M564.8 1062.3v-10M660.3 1062.3v-10M755.8 1062.3v-10M851.3 1062.3v-10M946.8 1062.3v-10M278.3 665h10M278.3 778.5h10M278.3 891.8h10M278.3 1005.4h10"/>
<text class="t m" x="272.8" y="1098.2">0</text>
<text class="t m" x="368.3" y="1098.2">5</text>
<text class="t m" x="463.8" y="1098.2">10</text>
<text class="t m" x="559.3" y="1098.2">15</text>
<text class="t m" x="654.8" y="1098.2">20</text>
<text class="t m" x="750.3" y="1098.2">25</text>
<text class="t m" x="845.8" y="1098.2">30</text>
<text class="t m" x="941.3" y="1098.2">35</text>
<text class="t e ls" x="268.2" y="671">1.0</text>
<text class="t e ls" x="268.2" y="784.7">0.8</text>
<text class="t e ls" x="268.2" y="898.3">0.6</text>
<text class="t e ls" x="268.2" y="1012">0.4</text>
<polyline class="ln" points="278.3,1047.8 297.4,671.3 316.5,670 335.6,669.5 354.7,669 373.8,668.5 392.9,668 412,667.5 431.1,667 450.2,666.5 469.3,666 488.4,665.5 507.5,665.5 526.6,665.5 545.7,665.5 564.8,665.5 583.9,665.5 603,665.5 622.1,665.5 641.2,665.5 660.3,665.5 679.4,665.5 698.5,665.5 717.6,665.5 736.7,665.5 755.8,665.5 774.9,665.5 794,665.5 813.1,665.5 832.2,665.5 851.3,665.5 870.4,665.5 889.5,665.5 908.6,665.5 927.7,665.5 946.8,665.5"/>
<polyline class="ln" points="278.3,1047.8 297.4,873.6 316.5,693.6 335.6,705.7 354.7,701.3 373.8,696.6 392.9,693 412,690 431.1,687.1 450.2,684.1 469.3,681.9 488.4,679.8 507.5,678.4 526.6,677 545.7,675 564.8,674.4 583.9,673 603,671.3 622.1,670.3 641.2,669.5 660.3,669 679.4,668.3 698.5,667.8 717.6,667.2 736.7,666.7 755.8,666.2 774.9,665.5 794,665.5 813.1,665.5 832.2,665.5 851.3,665.5 870.4,665.5 889.5,665.5 908.6,665.5 927.7,665.5 946.8,665.5"/>
<polyline class="ln" points="278.3,1046.6 297.4,1046.6 316.5,1046.6 335.6,1041.6 354.7,798.7 373.8,729 392.9,719.9 412,721.5 431.1,716.8 450.2,711.8 469.3,706.3 488.4,703.3 507.5,699 526.6,696.6 545.7,694.2 564.8,690.6 583.9,688.5 603,685.8 622.1,684 641.2,681.5 660.3,680.4 679.4,678.4 698.5,677 717.6,676.4 736.7,674.8 755.8,674 774.9,673.4 794,672.4 813.1,671.3 832.2,670.3 851.3,669.3 870.4,667.3 889.5,665.5 908.6,665.5 927.7,665.5 946.8,665.5"/>
<polyline class="ln" points="278.3,1046.6 297.4,1046.6 316.5,1046.6 335.6,1046.6 354.7,1053.7 373.8,1037.5 392.9,1018.3 412,821 431.1,766.4 450.2,754.3 469.3,745.2 488.4,738.7 507.5,734 526.6,729.6 545.7,724.9 564.8,718.9 583.9,713.8 603,710.8 622.1,707.2 641.2,704.7 660.3,700.7 679.4,697.6 698.5,695 717.6,692.6 736.7,690.6 755.8,688.5 774.9,686.9 794,684.5 813.1,683.1 832.2,681.5 851.3,676.4 870.4,670 889.5,665.5 908.6,665.5 927.7,665.5 946.8,665.5"/>
<polyline class="ln" points="278.3,1047.6 297.4,1051.7 316.5,1047.6 335.6,1061.8 354.7,1046.6 373.8,1049.6 392.9,1047.6 412,1061.8 431.1,1061.8 450.2,1004.1 469.3,929.8 488.4,905.8 507.5,892.8 526.6,869.5 545.7,824 564.8,782.2 583.9,770 603,764.6 622.1,758.8 641.2,752.7 660.3,746.6 679.4,742.1 698.5,736 717.6,731 736.7,726 755.8,720.3 774.9,713.8 794,708.8 813.1,704.1 832.2,697.2 851.3,690.2 870.4,678.4 889.5,668.3 908.6,665 927.7,665 946.8,665"/>
<polyline class="ln" points="278.3,663.6 297.4,663.6 316.5,663.6 335.6,663.6 354.7,663.6 373.8,663.6 392.9,663.6 412,663.6 431.1,663.6 450.2,663.6 469.3,663.6 488.4,663.6 507.5,663.6 526.6,663.6 545.7,663.6 564.8,663.6 583.9,663.6 603,663.6 622.1,663.6 641.2,663.6 660.3,663.6 679.4,663.6 698.5,663.6 717.6,663.6 736.7,663.6 755.8,663.6 774.9,663.6 794,663.6 813.1,663.6 832.2,663.6 851.3,663.6 870.4,663.6 889.5,663.6 908.6,663.6 927.7,663.6 946.8,663.6"/>
<path class="mk" d="M273.4 1043h9.7v9.7h-9.7zM292.6 666.4h9.7v9.7h-9.7zM311.6 665.1h9.7v9.7h-9.7zM330.8 664.6h9.7v9.7h-9.7zM349.9 664.1h9.7v9.7h-9.7zM368.9 663.6h9.7v9.7h-9.7zM388 663.1h9.7v9.7h-9.7zM407.1 662.6h9.7v9.7h-9.7zM426.2 662.1h9.7v9.7h-9.7zM445.4 661.6h9.7v9.7h-9.7zM464.4 661.1h9.7v9.7h-9.7zM483.5 660.6h9.7v9.7h-9.7zM502.6 660.6h9.7v9.7h-9.7zM521.8 660.6h9.7v9.7h-9.7zM540.9 660.6h9.7v9.7h-9.7zM559.9 660.6h9.7v9.7h-9.7zM579.1 660.6h9.7v9.7h-9.7zM598.1 660.6h9.7v9.7h-9.7zM617.2 660.6h9.7v9.7h-9.7zM636.4 660.6h9.7v9.7h-9.7zM655.4 660.6h9.7v9.7h-9.7zM674.6 660.6h9.7v9.7h-9.7zM693.6 660.6h9.7v9.7h-9.7zM712.8 660.6h9.7v9.7h-9.7zM731.9 660.6h9.7v9.7h-9.7zM750.9 660.6h9.7v9.7h-9.7zM770.1 660.6h9.7v9.7h-9.7zM789.1 660.6h9.7v9.7h-9.7zM808.2 660.6h9.7v9.7h-9.7zM827.4 660.6h9.7v9.7h-9.7zM846.4 660.6h9.7v9.7h-9.7zM865.6 660.6h9.7v9.7h-9.7zM884.6 660.6h9.7v9.7h-9.7zM903.7 660.6h9.7v9.7h-9.7zM922.9 660.6h9.7v9.7h-9.7zM941.9 660.6h9.7v9.7h-9.7z"/>
<path class="mk" d="M272.4 1047.8a5.9 5.9 0 1 0 11.8 0a5.9 5.9 0 1 0 -11.8 0zM291.5 873.6a5.9 5.9 0 1 0 11.8 0a5.9 5.9 0 1 0 -11.8 0zM310.6 693.6a5.9 5.9 0 1 0 11.8 0a5.9 5.9 0 1 0 -11.8 0zM329.7 705.7a5.9 5.9 0 1 0 11.8 0a5.9 5.9 0 1 0 -11.8 0zM348.8 701.3a5.9 5.9 0 1 0 11.8 0a5.9 5.9 0 1 0 -11.8 0zM367.9 696.6a5.9 5.9 0 1 0 11.8 0a5.9 5.9 0 1 0 -11.8 0zM387 693a5.9 5.9 0 1 0 11.8 0a5.9 5.9 0 1 0 -11.8 0zM406.1 690a5.9 5.9 0 1 0 11.8 0a5.9 5.9 0 1 0 -11.8 0zM425.2 687.1a5.9 5.9 0 1 0 11.8 0a5.9 5.9 0 1 0 -11.8 0zM444.3 684.1a5.9 5.9 0 1 0 11.8 0a5.9 5.9 0 1 0 -11.8 0zM463.4 681.9a5.9 5.9 0 1 0 11.8 0a5.9 5.9 0 1 0 -11.8 0zM482.5 679.8a5.9 5.9 0 1 0 11.8 0a5.9 5.9 0 1 0 -11.8 0zM501.6 678.4a5.9 5.9 0 1 0 11.8 0a5.9 5.9 0 1 0 -11.8 0zM520.7 677a5.9 5.9 0 1 0 11.8 0a5.9 5.9 0 1 0 -11.8 0zM539.8 675a5.9 5.9 0 1 0 11.8 0a5.9 5.9 0 1 0 -11.8 0zM558.9 674.4a5.9 5.9 0 1 0 11.8 0a5.9 5.9 0 1 0 -11.8 0zM578 673a5.9 5.9 0 1 0 11.8 0a5.9 5.9 0 1 0 -11.8 0zM597.1 671.3a5.9 5.9 0 1 0 11.8 0a5.9 5.9 0 1 0 -11.8 0zM616.2 670.3a5.9 5.9 0 1 0 11.8 0a5.9 5.9 0 1 0 -11.8 0zM635.3 669.5a5.9 5.9 0 1 0 11.8 0a5.9 5.9 0 1 0 -11.8 0zM654.4 669a5.9 5.9 0 1 0 11.8 0a5.9 5.9 0 1 0 -11.8 0zM673.5 668.3a5.9 5.9 0 1 0 11.8 0a5.9 5.9 0 1 0 -11.8 0zM692.6 667.8a5.9 5.9 0 1 0 11.8 0a5.9 5.9 0 1 0 -11.8 0zM711.7 667.2a5.9 5.9 0 1 0 11.8 0a5.9 5.9 0 1 0 -11.8 0zM730.8 666.7a5.9 5.9 0 1 0 11.8 0a5.9 5.9 0 1 0 -11.8 0zM749.9 666.2a5.9 5.9 0 1 0 11.8 0a5.9 5.9 0 1 0 -11.8 0zM769 665.5a5.9 5.9 0 1 0 11.8 0a5.9 5.9 0 1 0 -11.8 0zM788.1 665.5a5.9 5.9 0 1 0 11.8 0a5.9 5.9 0 1 0 -11.8 0zM807.2 665.5a5.9 5.9 0 1 0 11.8 0a5.9 5.9 0 1 0 -11.8 0zM826.3 665.5a5.9 5.9 0 1 0 11.8 0a5.9 5.9 0 1 0 -11.8 0zM845.4 665.5a5.9 5.9 0 1 0 11.8 0a5.9 5.9 0 1 0 -11.8 0zM864.5 665.5a5.9 5.9 0 1 0 11.8 0a5.9 5.9 0 1 0 -11.8 0zM883.6 665.5a5.9 5.9 0 1 0 11.8 0a5.9 5.9 0 1 0 -11.8 0zM902.7 665.5a5.9 5.9 0 1 0 11.8 0a5.9 5.9 0 1 0 -11.8 0zM921.8 665.5a5.9 5.9 0 1 0 11.8 0a5.9 5.9 0 1 0 -11.8 0zM940.9 665.5a5.9 5.9 0 1 0 11.8 0a5.9 5.9 0 1 0 -11.8 0z"/>
<path class="mk" d="M278.3 1040.1L284.3 1052.5L272.3 1052.5zM297.4 1040.1L303.4 1052.5L291.4 1052.5zM316.5 1040.1L322.5 1052.5L310.5 1052.5zM335.6 1035.1L341.6 1047.5L329.6 1047.5zM354.7 792.2L360.7 804.6L348.7 804.6zM373.8 722.5L379.8 734.9L367.8 734.9zM392.9 713.4L398.9 725.8L386.9 725.8zM412 715L418 727.4L406 727.4zM431.1 710.3L437.1 722.7L425.1 722.7zM450.2 705.3L456.2 717.7L444.2 717.7zM469.3 699.8L475.3 712.2L463.3 712.2zM488.4 696.8L494.4 709.2L482.4 709.2zM507.5 692.5L513.5 704.9L501.5 704.9zM526.6 690.1L532.6 702.5L520.6 702.5zM545.7 687.7L551.7 700.1L539.7 700.1zM564.8 684.1L570.8 696.5L558.8 696.5zM583.9 682L589.9 694.4L577.9 694.4zM603 679.3L609 691.7L597 691.7zM622.1 677.5L628.1 689.9L616.1 689.9zM641.2 675L647.2 687.4L635.2 687.4zM660.3 673.9L666.3 686.3L654.3 686.3zM679.4 671.9L685.4 684.3L673.4 684.3zM698.5 670.5L704.5 682.9L692.5 682.9zM717.6 669.9L723.6 682.3L711.6 682.3zM736.7 668.3L742.7 680.7L730.7 680.7zM755.8 667.5L761.8 679.9L749.8 679.9zM774.9 666.9L780.9 679.3L768.9 679.3zM794 665.9L800 678.3L788 678.3zM813.1 664.8L819.1 677.2L807.1 677.2zM832.2 663.8L838.2 676.2L826.2 676.2zM851.3 662.8L857.3 675.2L845.3 675.2zM870.4 660.8L876.4 673.2L864.4 673.2zM889.5 659L895.5 671.4L883.5 671.4zM908.6 659L914.6 671.4L902.6 671.4zM927.7 659L933.7 671.4L921.7 671.4zM946.8 659L952.8 671.4L940.8 671.4z"/>
<path class="mk" d="M278.3 1053.1L284.3 1040.7L272.3 1040.7zM297.4 1053.1L303.4 1040.7L291.4 1040.7zM316.5 1053.1L322.5 1040.7L310.5 1040.7zM335.6 1053.1L341.6 1040.7L329.6 1040.7zM354.7 1060.2L360.7 1047.8L348.7 1047.8zM373.8 1044L379.8 1031.6L367.8 1031.6zM392.9 1024.8L398.9 1012.4L386.9 1012.4zM412 827.5L418 815.1L406 815.1zM431.1 772.9L437.1 760.5L425.1 760.5zM450.2 760.8L456.2 748.4L444.2 748.4zM469.3 751.7L475.3 739.3L463.3 739.3zM488.4 745.2L494.4 732.8L482.4 732.8zM507.5 740.5L513.5 728.1L501.5 728.1zM526.6 736.1L532.6 723.7L520.6 723.7zM545.7 731.4L551.7 719L539.7 719zM564.8 725.4L570.8 713L558.8 713zM583.9 720.3L589.9 707.9L577.9 707.9zM603 717.3L609 704.9L597 704.9zM622.1 713.7L628.1 701.3L616.1 701.3zM641.2 711.2L647.2 698.8L635.2 698.8zM660.3 707.2L666.3 694.8L654.3 694.8zM679.4 704.1L685.4 691.7L673.4 691.7zM698.5 701.5L704.5 689.1L692.5 689.1zM717.6 699.1L723.6 686.7L711.6 686.7zM736.7 697.1L742.7 684.7L730.7 684.7zM755.8 695L761.8 682.6L749.8 682.6zM774.9 693.4L780.9 681L768.9 681zM794 691L800 678.6L788 678.6zM813.1 689.6L819.1 677.2L807.1 677.2zM832.2 688L838.2 675.6L826.2 675.6zM851.3 682.9L857.3 670.5L845.3 670.5zM870.4 676.5L876.4 664.1L864.4 664.1zM889.5 672L895.5 659.6L883.5 659.6zM908.6 672L914.6 659.6L902.6 659.6zM927.7 672L933.7 659.6L921.7 659.6zM946.8 672L952.8 659.6L940.8 659.6z"/>
<path class="mk" d="M278.3 1041.4L283.7 1047.6L278.3 1053.8L272.9 1047.6zM297.4 1045.5L302.8 1051.7L297.4 1057.9L292.1 1051.7zM316.5 1041.4L321.9 1047.6L316.5 1053.8L311.1 1047.6zM335.6 1055.6L341 1061.8L335.6 1068L330.2 1061.8zM354.7 1040.4L360.1 1046.6L354.7 1052.8L349.4 1046.6zM373.8 1043.4L379.2 1049.6L373.8 1055.8L368.4 1049.6zM392.9 1041.4L398.2 1047.6L392.9 1053.8L387.5 1047.6zM412 1055.6L417.4 1061.8L412 1068L406.6 1061.8zM431.1 1055.6L436.5 1061.8L431.1 1068L425.8 1061.8zM450.2 997.9L455.6 1004.1L450.2 1010.3L444.9 1004.1zM469.3 923.6L474.7 929.8L469.3 936L463.9 929.8zM488.4 899.6L493.8 905.8L488.4 912L483 905.8zM507.5 886.6L512.9 892.8L507.5 899L502.1 892.8zM526.6 863.3L532 869.5L526.6 875.7L521.2 869.5zM545.7 817.8L551.1 824L545.7 830.2L540.4 824zM564.8 776L570.1 782.2L564.8 788.4L559.4 782.2zM583.9 763.8L589.3 770L583.9 776.2L578.6 770zM603 758.4L608.4 764.6L603 770.8L597.6 764.6zM622.1 752.6L627.5 758.8L622.1 765L616.8 758.8zM641.2 746.5L646.6 752.7L641.2 758.9L635.9 752.7zM660.3 740.4L665.6 746.6L660.3 752.8L654.9 746.6zM679.4 735.9L684.8 742.1L679.4 748.3L674.1 742.1zM698.5 729.8L703.9 736L698.5 742.2L693.1 736zM717.6 724.8L723 731L717.6 737.2L712.2 731zM736.7 719.8L742.1 726L736.7 732.2L731.4 726zM755.8 714.1L761.1 720.3L755.8 726.5L750.4 720.3zM774.9 707.6L780.3 713.8L774.9 720L769.6 713.8zM794 702.6L799.4 708.8L794 715L788.6 708.8zM813.1 697.9L818.4 704.1L813.1 710.3L807.7 704.1zM832.2 691L837.6 697.2L832.2 703.4L826.9 697.2zM851.3 684L856.6 690.2L851.3 696.4L845.9 690.2zM870.4 672.2L875.8 678.4L870.4 684.6L865.1 678.4zM889.5 662.1L894.9 668.3L889.5 674.5L884.1 668.3zM908.6 658.8L913.9 665L908.6 671.2L903.2 665zM927.7 658.8L933.1 665L927.7 671.2L922.4 665zM946.8 658.8L952.1 665L946.8 671.2L941.4 665z"/>
<path class="mk" d="M272.7 663.6L282.9 657.5L282.9 669.8zM291.8 663.6L302 657.5L302 669.8zM310.9 663.6L321.1 657.5L321.1 669.8zM330 663.6L340.2 657.5L340.2 669.8zM349.1 663.6L359.3 657.5L359.3 669.8zM368.2 663.6L378.4 657.5L378.4 669.8zM387.3 663.6L397.5 657.5L397.5 669.8zM406.4 663.6L416.6 657.5L416.6 669.8zM425.5 663.6L435.7 657.5L435.7 669.8zM444.6 663.6L454.8 657.5L454.8 669.8zM463.7 663.6L473.9 657.5L473.9 669.8zM482.8 663.6L493 657.5L493 669.8zM501.9 663.6L512.1 657.5L512.1 669.8zM521 663.6L531.2 657.5L531.2 669.8zM540.1 663.6L550.3 657.5L550.3 669.8zM559.2 663.6L569.4 657.5L569.4 669.8zM578.3 663.6L588.5 657.5L588.5 669.8zM597.4 663.6L607.6 657.5L607.6 669.8zM616.5 663.6L626.7 657.5L626.7 669.8zM635.6 663.6L645.8 657.5L645.8 669.8zM654.7 663.6L664.9 657.5L664.9 669.8zM673.8 663.6L684 657.5L684 669.8zM692.9 663.6L703.1 657.5L703.1 669.8zM712 663.6L722.2 657.5L722.2 669.8zM731.1 663.6L741.3 657.5L741.3 669.8zM750.2 663.6L760.4 657.5L760.4 669.8zM769.3 663.6L779.5 657.5L779.5 669.8zM788.4 663.6L798.6 657.5L798.6 669.8zM807.5 663.6L817.7 657.5L817.7 669.8zM826.6 663.6L836.8 657.5L836.8 669.8zM845.7 663.6L855.9 657.5L855.9 669.8zM864.8 663.6L875 657.5L875 669.8zM883.9 663.6L894.1 657.5L894.1 669.8zM903 663.6L913.2 657.5L913.2 669.8zM922.1 663.6L932.3 657.5L932.3 669.8zM941.2 663.6L951.4 657.5L951.4 669.8z"/>
<line class="lg" x1="704.1" y1="842.3" x2="754.7" y2="842.3"/>
<path class="mk" d="M724.5 837.4h9.7v9.7h-9.7z"/>
<text class="t" x="766.8" y="851.1" textLength="44.3" lengthAdjust="spacingAndGlyphs">0 m</text>
<line class="lg" x1="704.1" y1="873.4" x2="754.7" y2="873.4"/>
<path class="mk" d="M723.5 873.4a5.9 5.9 0 1 0 11.8 0a5.9 5.9 0 1 0 -11.8 0z"/>
<text class="t" x="766.8" y="882.2" textLength="84.3" lengthAdjust="spacingAndGlyphs">–0.2 m</text>
<line class="lg" x1="704.1" y1="901.9" x2="754.7" y2="901.9"/>
<path class="mk" d="M729.4 895.4L735.4 907.8L723.4 907.8z"/>
<text class="t" x="766.8" y="910.7" textLength="84.3" lengthAdjust="spacingAndGlyphs">–0.4 m</text>
<line class="lg" x1="704.1" y1="930.8" x2="754.7" y2="930.8"/>
<path class="mk" d="M729.4 937.3L735.4 924.9L723.4 924.9z"/>
<text class="t" x="766.8" y="939.6" textLength="84.3" lengthAdjust="spacingAndGlyphs">–0.6 m</text>
<line class="lg" x1="704.1" y1="960" x2="754.7" y2="960"/>
<path class="mk" d="M729.4 953.8L734.8 960L729.4 966.2L724 960z"/>
<text class="t" x="766.8" y="968.8" textLength="84.3" lengthAdjust="spacingAndGlyphs">–0.8 m</text>
<line class="lg" x1="704.1" y1="989.3" x2="754.7" y2="989.3"/>
<path class="mk" d="M723.8 989.3L734 983.1L734 995.4z"/>
<text class="t" x="766.8" y="998.1" textLength="84.3" lengthAdjust="spacingAndGlyphs">–0.9 m</text>
<text class="yl" transform="translate(207.8 940.2) rotate(-90) skewX(-13)" x="0 28.6 58.5 95.5">饱和度<tspan class="it">I</tspan></text>
<text class="c" y="1131.8" x="555.5 584 613 621.5">时间<tspan class="t2">/h</tspan></text>
<text class="c" y="1165.4" x="400.8 433.2 451.3">（<tspan class="t2">c</tspan>）</text>
<text class="c" y="1165.4" x="473.6 503.7 533.8 563.9 594 624.1 654.2 684.3 714.4">优势流的有效饱和度</text>
<path class="ax" d="M1207 605.5V1062.5H1877.2"/>
<path class="ax" d="M1290.7 1062.5v-10M1374.3 1062.5v-10M1458 1062.5v-10M1541.6 1062.5v-10M1625.2 1062.5v-10M1708.9 1062.5v-10M1792.6 1062.5v-10M1876.2 1062.5v-10M1207 606.5h10M1207 788.6h10M1207 971.4h10"/>
<text class="t m" x="1202.3" y="1092.7">0</text>
<text class="t m" x="1286" y="1092.7">50</text>
<text class="t m" x="1369.6" y="1092.7">100</text>
<text class="t m" x="1453.2" y="1092.7">150</text>
<text class="t m" x="1536.9" y="1092.7">200</text>
<text class="t m" x="1620.5" y="1092.7">250</text>
<text class="t m" x="1704.2" y="1092.7">300</text>
<text class="t m" x="1787.9" y="1092.7">350</text>
<text class="t m" x="1871.5" y="1092.7">400</text>
<text class="t e ls" x="1197.2" y="619">0.8</text>
<text class="t e ls" x="1197.2" y="799.5">0.6</text>
<text class="t e ls" x="1197.2" y="980">0.4</text>
<polyline class="ln" points="1208.4,1037.2 1225.1,919.5 1241.9,898.6 1258.6,879.8 1275.3,865.3 1292.1,852.7 1308.8,839.6 1325.5,829.2 1342.2,799.7 1359,798.7 1375.7,784.5 1392.4,761.5 1409.2,778 1425.9,762.9 1442.6,767 1459.4,758.9 1476.1,749.8 1492.8,754.8 1509.5,759.9 1526.3,762.9 1543,765 1559.7,765.4 1576.5,769.2 1593.2,773.5 1609.9,774.5 1626.7,758.7 1643.4,761.9 1660.1,770 1676.8,768.8 1693.6,767.8 1710.3,770.8 1727,775.5 1743.8,778.1 1760.5,777.5 1777.2,777.1 1794,777.1 1810.7,777.1 1827.4,777.1 1844.1,777.1 1860.9,777.1 1877.6,777.1"/>
<polyline class="ln" points="1208.4,1037.2 1225.1,1037 1241.9,1036 1258.6,1033 1275.3,1014.3 1292.1,973.9 1308.8,936 1325.5,904.3 1342.2,840.3 1359,824 1375.7,770 1392.4,736.6 1409.2,773 1425.9,725.9 1442.6,755.8 1459.4,717.8 1476.1,700.8 1492.8,725.1 1509.5,736.6 1526.3,739.6 1543,745 1559.7,742 1576.5,752.2 1593.2,756 1609.9,759 1626.7,728.4 1643.4,739.1 1660.1,752.6 1676.8,746.2 1693.6,746.2 1710.3,756.9 1727,764.4 1743.8,766.8 1760.5,765.4 1777.2,762.7 1794,765.4 1810.7,763.4 1827.4,764 1844.1,765.4 1860.9,765.4 1877.6,765.4"/>
<polyline class="ln" points="1208.4,1037 1225.1,1037 1241.9,1037 1258.6,1037 1275.3,1037 1292.1,1035 1308.8,1018 1325.5,993.7 1342.2,970.4 1359,890 1375.7,835.7 1392.4,777 1409.2,784 1425.9,770 1442.6,771 1459.4,749.8 1476.1,714.4 1492.8,729.5 1509.5,745.7 1526.3,724.5 1543,737.6 1559.7,725 1576.5,741 1593.2,753 1609.9,757.3 1626.7,687.5 1643.4,710.8 1660.1,727 1676.8,713.8 1693.6,725 1710.3,745.2 1727,759.3 1743.8,757.3 1760.5,752.2 1777.2,748.2 1794,753.2 1810.7,750.2 1827.4,751.2 1844.1,752.2 1860.9,750.8 1877.6,750.8"/>
<polyline class="ln" points="1208.4,1037 1225.1,1029 1241.9,996.7 1258.6,919.9 1275.3,891 1292.1,875.7 1308.8,868.5 1325.5,862.1 1342.2,862.1 1359,858.4 1375.7,835.7 1392.4,800.3 1409.2,793.2 1425.9,776 1442.6,783.1 1459.4,770.6 1476.1,748.7 1492.8,747.7 1509.5,761.9 1526.3,753.8 1543,758.5 1559.7,754.1 1576.5,763.4 1593.2,765.4 1609.9,770.4 1626.7,706.7 1643.4,725 1660.1,736 1676.8,716.8 1693.6,723 1710.3,751.2 1727,755.3 1743.8,749.2 1760.5,742.1 1777.2,734 1794,744.1 1810.7,733 1827.4,735 1844.1,735.5 1860.9,734 1877.6,734"/>
<polyline class="ln" points="1208.4,1037 1225.1,774.4 1241.9,769 1258.6,764.3 1275.3,763.3 1292.1,763.3 1308.8,764.3 1325.5,766.5 1342.2,772.6 1359,774 1375.7,772 1392.4,762.9 1409.2,757.4 1425.9,752.8 1442.6,753.8 1459.4,748.7 1476.1,737.6 1492.8,735.6 1509.5,740.7 1526.3,739.6 1543,740.4 1559.7,736.3 1576.5,739.3 1593.2,740.1 1609.9,743.1 1626.7,709.8 1643.4,719.9 1660.1,725 1676.8,707.7 1693.6,708.8 1710.3,722.9 1727,732 1743.8,726 1760.5,720.9 1777.2,710.8 1794,715.8 1810.7,703.7 1827.4,703.7 1844.1,702.7 1860.9,699.7 1877.6,698"/>
<path class="mk" d="M1203.6 1032.4h9.7v9.7h-9.7zM1220.3 914.6h9.7v9.7h-9.7zM1237 893.8h9.7v9.7h-9.7zM1253.7 874.9h9.7v9.7h-9.7zM1270.5 860.4h9.7v9.7h-9.7zM1287.2 847.9h9.7v9.7h-9.7zM1303.9 834.8h9.7v9.7h-9.7zM1320.7 824.4h9.7v9.7h-9.7zM1337.4 794.9h9.7v9.7h-9.7zM1354.1 793.9h9.7v9.7h-9.7zM1370.9 779.6h9.7v9.7h-9.7zM1387.6 756.6h9.7v9.7h-9.7zM1404.3 773.1h9.7v9.7h-9.7zM1421 758h9.7v9.7h-9.7zM1437.8 762.1h9.7v9.7h-9.7zM1454.5 754h9.7v9.7h-9.7zM1471.2 744.9h9.7v9.7h-9.7zM1488 749.9h9.7v9.7h-9.7zM1504.7 755h9.7v9.7h-9.7zM1521.4 758h9.7v9.7h-9.7zM1538.2 760.1h9.7v9.7h-9.7zM1554.9 760.5h9.7v9.7h-9.7zM1571.6 764.4h9.7v9.7h-9.7zM1588.3 768.6h9.7v9.7h-9.7zM1605.1 769.6h9.7v9.7h-9.7zM1621.8 753.9h9.7v9.7h-9.7zM1638.5 757h9.7v9.7h-9.7zM1655.3 765.1h9.7v9.7h-9.7zM1672 763.9h9.7v9.7h-9.7zM1688.7 762.9h9.7v9.7h-9.7zM1705.5 765.9h9.7v9.7h-9.7zM1722.2 770.6h9.7v9.7h-9.7zM1738.9 773.2h9.7v9.7h-9.7zM1755.6 772.6h9.7v9.7h-9.7zM1772.4 772.2h9.7v9.7h-9.7zM1789.1 772.2h9.7v9.7h-9.7zM1805.8 772.2h9.7v9.7h-9.7zM1822.6 772.2h9.7v9.7h-9.7zM1839.3 772.2h9.7v9.7h-9.7zM1856 772.2h9.7v9.7h-9.7zM1872.8 772.2h9.7v9.7h-9.7z"/>
<path class="mk" d="M1202.5 1037.2a5.9 5.9 0 1 0 11.8 0a5.9 5.9 0 1 0 -11.8 0zM1219.2 1037a5.9 5.9 0 1 0 11.8 0a5.9 5.9 0 1 0 -11.8 0zM1236 1036a5.9 5.9 0 1 0 11.8 0a5.9 5.9 0 1 0 -11.8 0zM1252.7 1033a5.9 5.9 0 1 0 11.8 0a5.9 5.9 0 1 0 -11.8 0zM1269.4 1014.3a5.9 5.9 0 1 0 11.8 0a5.9 5.9 0 1 0 -11.8 0zM1286.2 973.9a5.9 5.9 0 1 0 11.8 0a5.9 5.9 0 1 0 -11.8 0zM1302.9 936a5.9 5.9 0 1 0 11.8 0a5.9 5.9 0 1 0 -11.8 0zM1319.6 904.3a5.9 5.9 0 1 0 11.8 0a5.9 5.9 0 1 0 -11.8 0zM1336.3 840.3a5.9 5.9 0 1 0 11.8 0a5.9 5.9 0 1 0 -11.8 0zM1353.1 824a5.9 5.9 0 1 0 11.8 0a5.9 5.9 0 1 0 -11.8 0zM1369.8 770a5.9 5.9 0 1 0 11.8 0a5.9 5.9 0 1 0 -11.8 0zM1386.5 736.6a5.9 5.9 0 1 0 11.8 0a5.9 5.9 0 1 0 -11.8 0zM1403.3 773a5.9 5.9 0 1 0 11.8 0a5.9 5.9 0 1 0 -11.8 0zM1420 725.9a5.9 5.9 0 1 0 11.8 0a5.9 5.9 0 1 0 -11.8 0zM1436.7 755.8a5.9 5.9 0 1 0 11.8 0a5.9 5.9 0 1 0 -11.8 0zM1453.5 717.8a5.9 5.9 0 1 0 11.8 0a5.9 5.9 0 1 0 -11.8 0zM1470.2 700.8a5.9 5.9 0 1 0 11.8 0a5.9 5.9 0 1 0 -11.8 0zM1486.9 725.1a5.9 5.9 0 1 0 11.8 0a5.9 5.9 0 1 0 -11.8 0zM1503.6 736.6a5.9 5.9 0 1 0 11.8 0a5.9 5.9 0 1 0 -11.8 0zM1520.4 739.6a5.9 5.9 0 1 0 11.8 0a5.9 5.9 0 1 0 -11.8 0zM1537.1 745a5.9 5.9 0 1 0 11.8 0a5.9 5.9 0 1 0 -11.8 0zM1553.8 742a5.9 5.9 0 1 0 11.8 0a5.9 5.9 0 1 0 -11.8 0zM1570.6 752.2a5.9 5.9 0 1 0 11.8 0a5.9 5.9 0 1 0 -11.8 0zM1587.3 756a5.9 5.9 0 1 0 11.8 0a5.9 5.9 0 1 0 -11.8 0zM1604 759a5.9 5.9 0 1 0 11.8 0a5.9 5.9 0 1 0 -11.8 0zM1620.8 728.4a5.9 5.9 0 1 0 11.8 0a5.9 5.9 0 1 0 -11.8 0zM1637.5 739.1a5.9 5.9 0 1 0 11.8 0a5.9 5.9 0 1 0 -11.8 0zM1654.2 752.6a5.9 5.9 0 1 0 11.8 0a5.9 5.9 0 1 0 -11.8 0zM1670.9 746.2a5.9 5.9 0 1 0 11.8 0a5.9 5.9 0 1 0 -11.8 0zM1687.7 746.2a5.9 5.9 0 1 0 11.8 0a5.9 5.9 0 1 0 -11.8 0zM1704.4 756.9a5.9 5.9 0 1 0 11.8 0a5.9 5.9 0 1 0 -11.8 0zM1721.1 764.4a5.9 5.9 0 1 0 11.8 0a5.9 5.9 0 1 0 -11.8 0zM1737.9 766.8a5.9 5.9 0 1 0 11.8 0a5.9 5.9 0 1 0 -11.8 0zM1754.6 765.4a5.9 5.9 0 1 0 11.8 0a5.9 5.9 0 1 0 -11.8 0zM1771.3 762.7a5.9 5.9 0 1 0 11.8 0a5.9 5.9 0 1 0 -11.8 0zM1788 765.4a5.9 5.9 0 1 0 11.8 0a5.9 5.9 0 1 0 -11.8 0zM1804.8 763.4a5.9 5.9 0 1 0 11.8 0a5.9 5.9 0 1 0 -11.8 0zM1821.5 764a5.9 5.9 0 1 0 11.8 0a5.9 5.9 0 1 0 -11.8 0zM1838.2 765.4a5.9 5.9 0 1 0 11.8 0a5.9 5.9 0 1 0 -11.8 0zM1855 765.4a5.9 5.9 0 1 0 11.8 0a5.9 5.9 0 1 0 -11.8 0zM1871.7 765.4a5.9 5.9 0 1 0 11.8 0a5.9 5.9 0 1 0 -11.8 0z"/>
<path class="mk" d="M1208.4 1030.5L1214.4 1042.9L1202.4 1042.9zM1225.1 1030.5L1231.1 1042.9L1219.1 1042.9zM1241.9 1030.5L1247.9 1042.9L1235.9 1042.9zM1258.6 1030.5L1264.6 1042.9L1252.6 1042.9zM1275.3 1030.5L1281.3 1042.9L1269.3 1042.9zM1292.1 1028.5L1298.1 1040.9L1286.1 1040.9zM1308.8 1011.5L1314.8 1023.9L1302.8 1023.9zM1325.5 987.2L1331.5 999.6L1319.5 999.6zM1342.2 963.9L1348.2 976.3L1336.2 976.3zM1359 883.5L1365 895.9L1353 895.9zM1375.7 829.2L1381.7 841.6L1369.7 841.6zM1392.4 770.5L1398.4 782.9L1386.4 782.9zM1409.2 777.5L1415.2 789.9L1403.2 789.9zM1425.9 763.5L1431.9 775.9L1419.9 775.9zM1442.6 764.5L1448.6 776.9L1436.6 776.9zM1459.4 743.3L1465.4 755.7L1453.4 755.7zM1476.1 707.9L1482.1 720.3L1470.1 720.3zM1492.8 723L1498.8 735.4L1486.8 735.4zM1509.5 739.2L1515.5 751.6L1503.5 751.6zM1526.3 718L1532.3 730.4L1520.3 730.4zM1543 731.1L1549 743.5L1537 743.5zM1559.7 718.5L1565.7 730.9L1553.7 730.9zM1576.5 734.5L1582.5 746.9L1570.5 746.9zM1593.2 746.5L1599.2 758.9L1587.2 758.9zM1609.9 750.8L1615.9 763.2L1603.9 763.2zM1626.7 681L1632.7 693.4L1620.7 693.4zM1643.4 704.3L1649.4 716.7L1637.4 716.7zM1660.1 720.5L1666.1 732.9L1654.1 732.9zM1676.8 707.3L1682.8 719.7L1670.8 719.7zM1693.6 718.5L1699.6 730.9L1687.6 730.9zM1710.3 738.7L1716.3 751.1L1704.3 751.1zM1727 752.8L1733 765.2L1721 765.2zM1743.8 750.8L1749.8 763.2L1737.8 763.2zM1760.5 745.7L1766.5 758.1L1754.5 758.1zM1777.2 741.7L1783.2 754.1L1771.2 754.1zM1794 746.7L1800 759.1L1788 759.1zM1810.7 743.7L1816.7 756.1L1804.7 756.1zM1827.4 744.7L1833.4 757.1L1821.4 757.1zM1844.1 745.7L1850.1 758.1L1838.1 758.1zM1860.9 744.3L1866.9 756.7L1854.9 756.7zM1877.6 744.3L1883.6 756.7L1871.6 756.7z"/>
<path class="mk" d="M1208.4 1043.5L1214.4 1031.1L1202.4 1031.1zM1225.1 1035.5L1231.1 1023.1L1219.1 1023.1zM1241.9 1003.2L1247.9 990.8L1235.9 990.8zM1258.6 926.4L1264.6 914L1252.6 914zM1275.3 897.5L1281.3 885.1L1269.3 885.1zM1292.1 882.2L1298.1 869.8L1286.1 869.8zM1308.8 875L1314.8 862.6L1302.8 862.6zM1325.5 868.6L1331.5 856.2L1319.5 856.2zM1342.2 868.6L1348.2 856.2L1336.2 856.2zM1359 864.9L1365 852.5L1353 852.5zM1375.7 842.2L1381.7 829.8L1369.7 829.8zM1392.4 806.8L1398.4 794.4L1386.4 794.4zM1409.2 799.7L1415.2 787.3L1403.2 787.3zM1425.9 782.5L1431.9 770.1L1419.9 770.1zM1442.6 789.6L1448.6 777.2L1436.6 777.2zM1459.4 777.1L1465.4 764.7L1453.4 764.7zM1476.1 755.2L1482.1 742.8L1470.1 742.8zM1492.8 754.2L1498.8 741.8L1486.8 741.8zM1509.5 768.4L1515.5 756L1503.5 756zM1526.3 760.3L1532.3 747.9L1520.3 747.9zM1543 765L1549 752.6L1537 752.6zM1559.7 760.6L1565.7 748.2L1553.7 748.2zM1576.5 769.9L1582.5 757.5L1570.5 757.5zM1593.2 771.9L1599.2 759.5L1587.2 759.5zM1609.9 776.9L1615.9 764.5L1603.9 764.5zM1626.7 713.2L1632.7 700.8L1620.7 700.8zM1643.4 731.5L1649.4 719.1L1637.4 719.1zM1660.1 742.5L1666.1 730.1L1654.1 730.1zM1676.8 723.3L1682.8 710.9L1670.8 710.9zM1693.6 729.5L1699.6 717.1L1687.6 717.1zM1710.3 757.7L1716.3 745.3L1704.3 745.3zM1727 761.8L1733 749.4L1721 749.4zM1743.8 755.7L1749.8 743.3L1737.8 743.3zM1760.5 748.6L1766.5 736.2L1754.5 736.2zM1777.2 740.5L1783.2 728.1L1771.2 728.1zM1794 750.6L1800 738.2L1788 738.2zM1810.7 739.5L1816.7 727.1L1804.7 727.1zM1827.4 741.5L1833.4 729.1L1821.4 729.1zM1844.1 742L1850.1 729.6L1838.1 729.6zM1860.9 740.5L1866.9 728.1L1854.9 728.1zM1877.6 740.5L1883.6 728.1L1871.6 728.1z"/>
<path class="mk" d="M1208.4 1030.8L1213.8 1037L1208.4 1043.2L1203.1 1037zM1225.1 768.2L1230.5 774.4L1225.1 780.6L1219.8 774.4zM1241.9 762.8L1247.2 769L1241.9 775.2L1236.5 769zM1258.6 758.1L1263.9 764.3L1258.6 770.5L1253.2 764.3zM1275.3 757.1L1280.7 763.3L1275.3 769.5L1270 763.3zM1292.1 757.1L1297.4 763.3L1292.1 769.5L1286.7 763.3zM1308.8 758.1L1314.1 764.3L1308.8 770.5L1303.4 764.3zM1325.5 760.3L1330.9 766.5L1325.5 772.7L1320.2 766.5zM1342.2 766.4L1347.6 772.6L1342.2 778.8L1336.9 772.6zM1359 767.8L1364.3 774L1359 780.2L1353.6 774zM1375.7 765.8L1381 772L1375.7 778.2L1370.4 772zM1392.4 756.7L1397.8 762.9L1392.4 769.1L1387.1 762.9zM1409.2 751.2L1414.5 757.4L1409.2 763.6L1403.8 757.4zM1425.9 746.6L1431.2 752.8L1425.9 759L1420.5 752.8zM1442.6 747.6L1448 753.8L1442.6 760L1437.3 753.8zM1459.4 742.5L1464.7 748.7L1459.4 754.9L1454 748.7zM1476.1 731.4L1481.4 737.6L1476.1 743.8L1470.7 737.6zM1492.8 729.4L1498.2 735.6L1492.8 741.8L1487.5 735.6zM1509.5 734.5L1514.9 740.7L1509.5 746.9L1504.2 740.7zM1526.3 733.4L1531.6 739.6L1526.3 745.8L1520.9 739.6zM1543 734.2L1548.3 740.4L1543 746.6L1537.7 740.4zM1559.7 730.1L1565.1 736.3L1559.7 742.5L1554.4 736.3zM1576.5 733.1L1581.8 739.3L1576.5 745.5L1571.1 739.3zM1593.2 733.9L1598.5 740.1L1593.2 746.3L1587.8 740.1zM1609.9 736.9L1615.3 743.1L1609.9 749.3L1604.6 743.1zM1626.7 703.6L1632 709.8L1626.7 716L1621.3 709.8zM1643.4 713.7L1648.7 719.9L1643.4 726.1L1638 719.9zM1660.1 718.8L1665.5 725L1660.1 731.2L1654.8 725zM1676.8 701.5L1682.2 707.7L1676.8 713.9L1671.5 707.7zM1693.6 702.6L1698.9 708.8L1693.6 715L1688.2 708.8zM1710.3 716.7L1715.7 722.9L1710.3 729.1L1705 722.9zM1727 725.8L1732.4 732L1727 738.2L1721.7 732zM1743.8 719.8L1749.1 726L1743.8 732.2L1738.4 726zM1760.5 714.7L1765.8 720.9L1760.5 727.1L1755.1 720.9zM1777.2 704.6L1782.6 710.8L1777.2 717L1771.9 710.8zM1794 709.6L1799.3 715.8L1794 722L1788.6 715.8zM1810.7 697.5L1816 703.7L1810.7 709.9L1805.3 703.7zM1827.4 697.5L1832.8 703.7L1827.4 709.9L1822.1 703.7zM1844.1 696.5L1849.5 702.7L1844.1 708.9L1838.8 702.7zM1860.9 693.5L1866.2 699.7L1860.9 705.9L1855.5 699.7zM1877.6 691.8L1883 698L1877.6 704.2L1872.3 698z"/>
<line class="lg" x1="1582.5" y1="829.5" x2="1633" y2="829.5"/>
<path class="mk" d="M1602.9 824.6h9.7v9.7h-9.7z"/>
<text class="t" x="1645.2" y="838.7" textLength="44.3" lengthAdjust="spacingAndGlyphs">0 m</text>
<line class="lg" x1="1582.5" y1="859.6" x2="1633" y2="859.6"/>
<path class="mk" d="M1601.8 859.6a5.9 5.9 0 1 0 11.8 0a5.9 5.9 0 1 0 -11.8 0z"/>
<text class="t" x="1645.2" y="868.8" textLength="84.3" lengthAdjust="spacingAndGlyphs">–0.2 m</text>
<line class="lg" x1="1582.5" y1="888.5" x2="1633" y2="888.5"/>
<path class="mk" d="M1607.7 882L1613.7 894.4L1601.7 894.4z"/>
<text class="t" x="1645.2" y="897.7" textLength="84.3" lengthAdjust="spacingAndGlyphs">–0.4 m</text>
<line class="lg" x1="1582.5" y1="918" x2="1633" y2="918"/>
<path class="mk" d="M1607.7 924.5L1613.7 912.1L1601.7 912.1z"/>
<text class="t" x="1645.2" y="927.2" textLength="84.3" lengthAdjust="spacingAndGlyphs">–0.6 m</text>
<line class="lg" x1="1582.5" y1="947.5" x2="1633" y2="947.5"/>
<path class="mk" d="M1607.7 941.3L1613 947.5L1607.7 953.7L1602.4 947.5z"/>
<text class="t" x="1645.2" y="956.7" textLength="84.3" lengthAdjust="spacingAndGlyphs">–0.8 m</text>
<text class="yl" transform="translate(1122.4 903.2) rotate(-90) skewX(-13)" x="0 28.6 58.5 95.5">饱和度<tspan class="it">I</tspan></text>
<text class="c" y="1128.2" x="1502.9 1531.4 1560.4 1568.9">时间<tspan class="t2">/h</tspan></text>
<text class="c" y="1164.5" x="1354.9 1388.2 1408.1">（<tspan class="t2">d</tspan>）</text>
<text class="c" y="1164.5" x="1429.5 1459.6 1489.7 1519.8 1549.9 1580 1610.1 1640.2 1670.3">优势流的有效饱和度</text>
<path class="ax" d="M278.3 1232.3V1633.3H947.8"/>
<path class="ax" d="M373.8 1633.3v-10M469.3 1633.3v-10M564.8 1633.3v-10M660.3 1633.3v-10M755.8 1633.3v-10M851.3 1633.3v-10M946.8 1633.3v-10M278.3 1233.3h10M278.3 1322.3h10M278.3 1411.4h10M278.3 1500.5h10M278.3 1589.7h10"/>
<text class="t m" x="278.3" y="1664.5">0</text>
<text class="t m" x="373.8" y="1664.5">5</text>
<text class="t m" x="469.3" y="1664.5">10</text>
<text class="t m" x="564.8" y="1664.5">15</text>
<text class="t m" x="660.3" y="1664.5">20</text>
<text class="t m" x="755.8" y="1664.5">25</text>
<text class="t m" x="851.3" y="1664.5">30</text>
<text class="t m" x="946.8" y="1664.5">35</text>
<text class="t e ls" x="267.7" y="1240.3">0.08</text>
<text class="t e ls" x="267.7" y="1330.9">0.06</text>
<text class="t e ls" x="267.7" y="1421.4">0.04</text>
<text class="t e ls" x="267.7" y="1512">0.02</text>
<text class="t e ls" x="267.7" y="1602.6">0</text>
<polyline class="ln" points="279.3,1589.7 298.4,1216.9 317.5,1268.5 336.6,1311.3 355.7,1347.7 374.8,1378.1 393.9,1404.4 413,1425.6 432.1,1442.8 451.2,1459 470.3,1471.8 489.4,1482.8 508.5,1492 527.6,1502.3 546.7,1507.7 565.8,1514.4 584.9,1519.9 604,1523.8 623.1,1528.4 642.2,1532 661.3,1536.1 680.4,1539.3 699.5,1542.5 718.6,1545.2 737.7,1547.7 756.8,1549.7 775.9,1551.8 795,1552.9 814.1,1553.9 833.2,1554.9 852.3,1555.6 871.4,1556.2 890.5,1556.4 909.6,1556 928.7,1554.3 947.8,1549.3"/>
<polyline class="ln" points="279.3,1589.7 298.4,1581 317.5,1346.3 336.6,1418.5 355.7,1415.1 374.8,1421.1 393.9,1427.2 413,1434.7 432.1,1440.8 451.2,1448.6 470.3,1457.5 489.4,1465 508.5,1472.5 527.6,1481 546.7,1489 565.8,1496.6 584.9,1503.7 604,1509 623.1,1514.4 642.2,1518.7 661.3,1523 680.4,1526.8 699.5,1532 718.6,1536.2 737.7,1539.3 756.8,1542.5 775.9,1545.6 795,1548.7 814.1,1551.8 833.2,1553.5 852.3,1554.9 871.4,1557 890.5,1559.1 909.6,1560.1 928.7,1559.5 947.8,1557"/>
<polyline class="ln" points="279.3,1589 298.4,1589 317.5,1589 336.6,1584.6 355.7,1554.3 374.8,1491.6 393.9,1484.1 413,1491.6 432.1,1487.5 451.2,1487.5 470.3,1484.9 489.4,1485.5 508.5,1487.5 527.6,1489.5 546.7,1490.6 565.8,1493.6 584.9,1495.6 604,1498.2 623.1,1500.7 642.2,1505.6 661.3,1510 680.4,1512.3 699.5,1516.4 718.6,1520.2 737.7,1524.3 756.8,1526.2 775.9,1528.9 795,1532 814.1,1536.2 833.2,1538.9 852.3,1540.8 871.4,1543.1 890.5,1544.5 909.6,1544.5 928.7,1540.4 947.8,1534.5"/>
<polyline class="ln" points="279.3,1589.7 298.4,1589.7 317.5,1589.7 336.6,1589.7 355.7,1589.7 374.8,1589.7 393.9,1589.7 413,1567.4 432.1,1519.9 451.2,1503.7 470.3,1492.6 489.4,1486.5 508.5,1481.5 527.6,1478.4 546.7,1475.4 565.8,1473.4 584.9,1472.4 604,1472.4 623.1,1474.4 642.2,1476.2 661.3,1479 680.4,1481.5 699.5,1484.2 718.6,1488.3 737.7,1492.5 756.8,1496.7 775.9,1500.2 795,1506.5 814.1,1509.6 833.2,1512.9 852.3,1513.3 871.4,1511.2 890.5,1497.7 909.6,1478.6 928.7,1460.2 947.8,1439"/>
<polyline class="ln" points="279.3,1589.7 298.4,1589.7 317.5,1589.7 336.6,1589.7 355.7,1589.7 374.8,1589.7 393.9,1589.7 413,1589.7 432.1,1589.7 451.2,1589.7 470.3,1523.9 489.4,1501.7 508.5,1494.2 527.6,1489.5 546.7,1483.5 565.8,1479.4 584.9,1476.4 604,1473.6 623.1,1471.5 642.2,1469.5 661.3,1470 680.4,1470.7 699.5,1471.7 718.6,1474.4 737.7,1475.9 756.8,1478.6 775.9,1481.5 795,1482.7 814.1,1483.8 833.2,1479.4 852.3,1463.8 871.4,1437.8 890.5,1408.2 909.6,1379.1 928.7,1328.1 947.8,1326"/>
<polyline class="ln" points="279.3,1589.7 298.4,1590.7 317.5,1592.7 336.6,1594.7 355.7,1597.7 374.8,1601.8 393.9,1607.8 413,1607.8 432.1,1598.7 451.2,1597.7 470.3,1595.7 489.4,1593.7 508.5,1592.1 527.6,1591.5 546.7,1590.7 565.8,1590.3 584.9,1590 604,1589.5 623.1,1589.2 642.2,1589 661.3,1588.8 680.4,1588.6 699.5,1588.5 718.6,1588.4 737.7,1588.3 756.8,1588.2 775.9,1588.2 795,1588.2 814.1,1588.2 833.2,1588.2 852.3,1588.2 871.4,1588.2 890.5,1588.2 909.6,1588.2 928.7,1588.2 947.8,1588.2"/>
<path class="mk" d="M274.4 1584.9h9.7v9.7h-9.7zM293.6 1212.1h9.7v9.7h-9.7zM312.6 1263.7h9.7v9.7h-9.7zM331.8 1306.5h9.7v9.7h-9.7zM350.9 1342.9h9.7v9.7h-9.7zM369.9 1373.2h9.7v9.7h-9.7zM389 1399.6h9.7v9.7h-9.7zM408.1 1420.8h9.7v9.7h-9.7zM427.2 1438h9.7v9.7h-9.7zM446.4 1454.2h9.7v9.7h-9.7zM465.4 1467h9.7v9.7h-9.7zM484.5 1478h9.7v9.7h-9.7zM503.6 1487.2h9.7v9.7h-9.7zM522.8 1497.5h9.7v9.7h-9.7zM541.9 1502.9h9.7v9.7h-9.7zM560.9 1509.6h9.7v9.7h-9.7zM580.1 1515.1h9.7v9.7h-9.7zM599.1 1519h9.7v9.7h-9.7zM618.2 1523.6h9.7v9.7h-9.7zM637.4 1527.2h9.7v9.7h-9.7zM656.4 1531.2h9.7v9.7h-9.7zM675.6 1534.5h9.7v9.7h-9.7zM694.6 1537.7h9.7v9.7h-9.7zM713.8 1540.4h9.7v9.7h-9.7zM732.9 1542.9h9.7v9.7h-9.7zM751.9 1544.9h9.7v9.7h-9.7zM771.1 1547h9.7v9.7h-9.7zM790.1 1548.1h9.7v9.7h-9.7zM809.2 1549.1h9.7v9.7h-9.7zM828.4 1550.1h9.7v9.7h-9.7zM847.4 1550.8h9.7v9.7h-9.7zM866.6 1551.4h9.7v9.7h-9.7zM885.6 1551.6h9.7v9.7h-9.7zM904.7 1551.2h9.7v9.7h-9.7zM923.9 1549.5h9.7v9.7h-9.7zM942.9 1544.5h9.7v9.7h-9.7z"/>
<path class="mk" d="M273.4 1589.7a5.9 5.9 0 1 0 11.8 0a5.9 5.9 0 1 0 -11.8 0zM292.5 1581a5.9 5.9 0 1 0 11.8 0a5.9 5.9 0 1 0 -11.8 0zM311.6 1346.3a5.9 5.9 0 1 0 11.8 0a5.9 5.9 0 1 0 -11.8 0zM330.7 1418.5a5.9 5.9 0 1 0 11.8 0a5.9 5.9 0 1 0 -11.8 0zM349.8 1415.1a5.9 5.9 0 1 0 11.8 0a5.9 5.9 0 1 0 -11.8 0zM368.9 1421.1a5.9 5.9 0 1 0 11.8 0a5.9 5.9 0 1 0 -11.8 0zM388 1427.2a5.9 5.9 0 1 0 11.8 0a5.9 5.9 0 1 0 -11.8 0zM407.1 1434.7a5.9 5.9 0 1 0 11.8 0a5.9 5.9 0 1 0 -11.8 0zM426.2 1440.8a5.9 5.9 0 1 0 11.8 0a5.9 5.9 0 1 0 -11.8 0zM445.3 1448.6a5.9 5.9 0 1 0 11.8 0a5.9 5.9 0 1 0 -11.8 0zM464.4 1457.5a5.9 5.9 0 1 0 11.8 0a5.9 5.9 0 1 0 -11.8 0zM483.5 1465a5.9 5.9 0 1 0 11.8 0a5.9 5.9 0 1 0 -11.8 0zM502.6 1472.5a5.9 5.9 0 1 0 11.8 0a5.9 5.9 0 1 0 -11.8 0zM521.7 1481a5.9 5.9 0 1 0 11.8 0a5.9 5.9 0 1 0 -11.8 0zM540.8 1489a5.9 5.9 0 1 0 11.8 0a5.9 5.9 0 1 0 -11.8 0zM559.9 1496.6a5.9 5.9 0 1 0 11.8 0a5.9 5.9 0 1 0 -11.8 0zM579 1503.7a5.9 5.9 0 1 0 11.8 0a5.9 5.9 0 1 0 -11.8 0zM598.1 1509a5.9 5.9 0 1 0 11.8 0a5.9 5.9 0 1 0 -11.8 0zM617.2 1514.4a5.9 5.9 0 1 0 11.8 0a5.9 5.9 0 1 0 -11.8 0zM636.3 1518.7a5.9 5.9 0 1 0 11.8 0a5.9 5.9 0 1 0 -11.8 0zM655.4 1523a5.9 5.9 0 1 0 11.8 0a5.9 5.9 0 1 0 -11.8 0zM674.5 1526.8a5.9 5.9 0 1 0 11.8 0a5.9 5.9 0 1 0 -11.8 0zM693.6 1532a5.9 5.9 0 1 0 11.8 0a5.9 5.9 0 1 0 -11.8 0zM712.7 1536.2a5.9 5.9 0 1 0 11.8 0a5.9 5.9 0 1 0 -11.8 0zM731.8 1539.3a5.9 5.9 0 1 0 11.8 0a5.9 5.9 0 1 0 -11.8 0zM750.9 1542.5a5.9 5.9 0 1 0 11.8 0a5.9 5.9 0 1 0 -11.8 0zM770 1545.6a5.9 5.9 0 1 0 11.8 0a5.9 5.9 0 1 0 -11.8 0zM789.1 1548.7a5.9 5.9 0 1 0 11.8 0a5.9 5.9 0 1 0 -11.8 0zM808.2 1551.8a5.9 5.9 0 1 0 11.8 0a5.9 5.9 0 1 0 -11.8 0zM827.3 1553.5a5.9 5.9 0 1 0 11.8 0a5.9 5.9 0 1 0 -11.8 0zM846.4 1554.9a5.9 5.9 0 1 0 11.8 0a5.9 5.9 0 1 0 -11.8 0zM865.5 1557a5.9 5.9 0 1 0 11.8 0a5.9 5.9 0 1 0 -11.8 0zM884.6 1559.1a5.9 5.9 0 1 0 11.8 0a5.9 5.9 0 1 0 -11.8 0zM903.7 1560.1a5.9 5.9 0 1 0 11.8 0a5.9 5.9 0 1 0 -11.8 0zM922.8 1559.5a5.9 5.9 0 1 0 11.8 0a5.9 5.9 0 1 0 -11.8 0zM941.9 1557a5.9 5.9 0 1 0 11.8 0a5.9 5.9 0 1 0 -11.8 0z"/>
<path class="mk" d="M279.3 1582.5L285.3 1594.9L273.3 1594.9zM298.4 1582.5L304.4 1594.9L292.4 1594.9zM317.5 1582.5L323.5 1594.9L311.5 1594.9zM336.6 1578.1L342.6 1590.5L330.6 1590.5zM355.7 1547.8L361.7 1560.2L349.7 1560.2zM374.8 1485.1L380.8 1497.5L368.8 1497.5zM393.9 1477.6L399.9 1490L387.9 1490zM413 1485.1L419 1497.5L407 1497.5zM432.1 1481L438.1 1493.4L426.1 1493.4zM451.2 1481L457.2 1493.4L445.2 1493.4zM470.3 1478.4L476.3 1490.8L464.3 1490.8zM489.4 1479L495.4 1491.4L483.4 1491.4zM508.5 1481L514.5 1493.4L502.5 1493.4zM527.6 1483L533.6 1495.4L521.6 1495.4zM546.7 1484.1L552.7 1496.5L540.7 1496.5zM565.8 1487.1L571.8 1499.5L559.8 1499.5zM584.9 1489.1L590.9 1501.5L578.9 1501.5zM604 1491.7L610 1504.1L598 1504.1zM623.1 1494.2L629.1 1506.6L617.1 1506.6zM642.2 1499.1L648.2 1511.5L636.2 1511.5zM661.3 1503.5L667.3 1515.9L655.3 1515.9zM680.4 1505.8L686.4 1518.2L674.4 1518.2zM699.5 1509.9L705.5 1522.3L693.5 1522.3zM718.6 1513.7L724.6 1526.1L712.6 1526.1zM737.7 1517.8L743.7 1530.2L731.7 1530.2zM756.8 1519.7L762.8 1532.1L750.8 1532.1zM775.9 1522.4L781.9 1534.8L769.9 1534.8zM795 1525.5L801 1537.9L789 1537.9zM814.1 1529.7L820.1 1542.1L808.1 1542.1zM833.2 1532.4L839.2 1544.8L827.2 1544.8zM852.3 1534.3L858.3 1546.7L846.3 1546.7zM871.4 1536.6L877.4 1549L865.4 1549zM890.5 1538L896.5 1550.4L884.5 1550.4zM909.6 1538L915.6 1550.4L903.6 1550.4zM928.7 1533.9L934.7 1546.3L922.7 1546.3zM947.8 1528L953.8 1540.4L941.8 1540.4z"/>
<path class="mk" d="M279.3 1596.2L285.3 1583.8L273.3 1583.8zM298.4 1596.2L304.4 1583.8L292.4 1583.8zM317.5 1596.2L323.5 1583.8L311.5 1583.8zM336.6 1596.2L342.6 1583.8L330.6 1583.8zM355.7 1596.2L361.7 1583.8L349.7 1583.8zM374.8 1596.2L380.8 1583.8L368.8 1583.8zM393.9 1596.2L399.9 1583.8L387.9 1583.8zM413 1573.9L419 1561.5L407 1561.5zM432.1 1526.4L438.1 1514L426.1 1514zM451.2 1510.2L457.2 1497.8L445.2 1497.8zM470.3 1499.1L476.3 1486.7L464.3 1486.7zM489.4 1493L495.4 1480.6L483.4 1480.6zM508.5 1488L514.5 1475.6L502.5 1475.6zM527.6 1484.9L533.6 1472.5L521.6 1472.5zM546.7 1481.9L552.7 1469.5L540.7 1469.5zM565.8 1479.9L571.8 1467.5L559.8 1467.5zM584.9 1478.9L590.9 1466.5L578.9 1466.5zM604 1478.9L610 1466.5L598 1466.5zM623.1 1480.9L629.1 1468.5L617.1 1468.5zM642.2 1482.7L648.2 1470.3L636.2 1470.3zM661.3 1485.5L667.3 1473.1L655.3 1473.1zM680.4 1488L686.4 1475.6L674.4 1475.6zM699.5 1490.7L705.5 1478.3L693.5 1478.3zM718.6 1494.8L724.6 1482.4L712.6 1482.4zM737.7 1499L743.7 1486.6L731.7 1486.6zM756.8 1503.2L762.8 1490.8L750.8 1490.8zM775.9 1506.7L781.9 1494.3L769.9 1494.3zM795 1513L801 1500.6L789 1500.6zM814.1 1516.1L820.1 1503.7L808.1 1503.7zM833.2 1519.4L839.2 1507L827.2 1507zM852.3 1519.8L858.3 1507.4L846.3 1507.4zM871.4 1517.7L877.4 1505.3L865.4 1505.3zM890.5 1504.2L896.5 1491.8L884.5 1491.8zM909.6 1485.1L915.6 1472.7L903.6 1472.7zM928.7 1466.7L934.7 1454.3L922.7 1454.3zM947.8 1445.5L953.8 1433.1L941.8 1433.1z"/>
<path class="mk" d="M279.3 1583.5L284.7 1589.7L279.3 1595.9L273.9 1589.7zM298.4 1583.5L303.8 1589.7L298.4 1595.9L293.1 1589.7zM317.5 1583.5L322.9 1589.7L317.5 1595.9L312.1 1589.7zM336.6 1583.5L342 1589.7L336.6 1595.9L331.2 1589.7zM355.7 1583.5L361.1 1589.7L355.7 1595.9L350.4 1589.7zM374.8 1583.5L380.2 1589.7L374.8 1595.9L369.4 1589.7zM393.9 1583.5L399.2 1589.7L393.9 1595.9L388.5 1589.7zM413 1583.5L418.4 1589.7L413 1595.9L407.6 1589.7zM432.1 1583.5L437.5 1589.7L432.1 1595.9L426.8 1589.7zM451.2 1583.5L456.6 1589.7L451.2 1595.9L445.9 1589.7zM470.3 1517.7L475.7 1523.9L470.3 1530.1L464.9 1523.9zM489.4 1495.5L494.8 1501.7L489.4 1507.9L484 1501.7zM508.5 1488L513.9 1494.2L508.5 1500.4L503.1 1494.2zM527.6 1483.3L533 1489.5L527.6 1495.7L522.2 1489.5zM546.7 1477.3L552.1 1483.5L546.7 1489.7L541.4 1483.5zM565.8 1473.2L571.1 1479.4L565.8 1485.6L560.4 1479.4zM584.9 1470.2L590.3 1476.4L584.9 1482.6L579.6 1476.4zM604 1467.4L609.4 1473.6L604 1479.8L598.6 1473.6zM623.1 1465.3L628.5 1471.5L623.1 1477.7L617.8 1471.5zM642.2 1463.3L647.6 1469.5L642.2 1475.7L636.9 1469.5zM661.3 1463.8L666.6 1470L661.3 1476.2L655.9 1470zM680.4 1464.5L685.8 1470.7L680.4 1476.9L675.1 1470.7zM699.5 1465.5L704.9 1471.7L699.5 1477.9L694.1 1471.7zM718.6 1468.2L724 1474.4L718.6 1480.6L713.2 1474.4zM737.7 1469.7L743.1 1475.9L737.7 1482.1L732.4 1475.9zM756.8 1472.4L762.1 1478.6L756.8 1484.8L751.4 1478.6zM775.9 1475.3L781.3 1481.5L775.9 1487.7L770.6 1481.5zM795 1476.5L800.4 1482.7L795 1488.9L789.6 1482.7zM814.1 1477.6L819.4 1483.8L814.1 1490L808.7 1483.8zM833.2 1473.2L838.6 1479.4L833.2 1485.6L827.9 1479.4zM852.3 1457.6L857.6 1463.8L852.3 1470L846.9 1463.8zM871.4 1431.6L876.8 1437.8L871.4 1444L866.1 1437.8zM890.5 1402L895.9 1408.2L890.5 1414.4L885.1 1408.2zM909.6 1372.9L914.9 1379.1L909.6 1385.3L904.2 1379.1zM928.7 1321.9L934.1 1328.1L928.7 1334.3L923.4 1328.1zM947.8 1319.8L953.1 1326L947.8 1332.2L942.4 1326z"/>
<path class="mk" d="M273.7 1589.7L283.9 1583.5L283.9 1595.9zM292.8 1590.7L303 1584.5L303 1596.9zM311.9 1592.7L322.1 1586.5L322.1 1598.9zM331 1594.7L341.2 1588.5L341.2 1600.9zM350.1 1597.7L360.3 1591.5L360.3 1603.9zM369.2 1601.8L379.4 1595.6L379.4 1608zM388.3 1607.8L398.5 1601.6L398.5 1614zM407.4 1607.8L417.6 1601.6L417.6 1614zM426.5 1598.7L436.7 1592.5L436.7 1604.9zM445.6 1597.7L455.8 1591.5L455.8 1603.9zM464.7 1595.7L474.9 1589.5L474.9 1601.9zM483.8 1593.7L494 1587.5L494 1599.9zM502.9 1592.1L513.1 1585.9L513.1 1598.2zM522 1591.5L532.2 1585.3L532.2 1597.7zM541.1 1590.7L551.3 1584.5L551.3 1596.9zM560.2 1590.3L570.4 1584.1L570.4 1596.5zM579.3 1590L589.5 1583.8L589.5 1596.2zM598.4 1589.5L608.6 1583.3L608.6 1595.7zM617.5 1589.2L627.7 1583L627.7 1595.4zM636.6 1589L646.8 1582.8L646.8 1595.2zM655.7 1588.8L665.9 1582.6L665.9 1595zM674.8 1588.6L685 1582.4L685 1594.8zM693.9 1588.5L704.1 1582.3L704.1 1594.7zM713 1588.4L723.2 1582.2L723.2 1594.6zM732.1 1588.3L742.3 1582.1L742.3 1594.5zM751.2 1588.2L761.4 1582L761.4 1594.4zM770.3 1588.2L780.5 1582L780.5 1594.4zM789.4 1588.2L799.6 1582L799.6 1594.4zM808.5 1588.2L818.7 1582L818.7 1594.4zM827.6 1588.2L837.8 1582L837.8 1594.4zM846.7 1588.2L856.9 1582L856.9 1594.4zM865.8 1588.2L876 1582L876 1594.4zM884.9 1588.2L895.1 1582L895.1 1594.4zM904 1588.2L914.2 1582L914.2 1594.4zM923.1 1588.2L933.3 1582L933.3 1594.4zM942.2 1588.2L952.4 1582L952.4 1594.4z"/>
<line class="lg" x1="708.2" y1="1287" x2="758.6" y2="1287"/>
<path class="mk" d="M728.1 1282.2h9.7v9.7h-9.7z"/>
<text class="t" x="771.7" y="1295.5" textLength="44.3" lengthAdjust="spacingAndGlyphs">0 m</text>
<line class="lg" x1="708.2" y1="1317.6" x2="758.6" y2="1317.6"/>
<path class="mk" d="M727.1 1317.6a5.9 5.9 0 1 0 11.8 0a5.9 5.9 0 1 0 -11.8 0z"/>
<text class="t" x="771.7" y="1326.1" textLength="84.3" lengthAdjust="spacingAndGlyphs">–0.2 m</text>
<line class="lg" x1="708.2" y1="1345.2" x2="758.6" y2="1345.2"/>
<path class="mk" d="M733 1338.7L739 1351.1L727 1351.1z"/>
<text class="t" x="771.7" y="1353.7" textLength="84.3" lengthAdjust="spacingAndGlyphs">–0.4 m</text>
<line class="lg" x1="708.2" y1="1374.8" x2="758.6" y2="1374.8"/>
<path class="mk" d="M733 1381.3L739 1368.9L727 1368.9z"/>
<text class="t" x="771.7" y="1383.3" textLength="84.3" lengthAdjust="spacingAndGlyphs">–0.6 m</text>
<line class="lg" x1="708.2" y1="1404.1" x2="758.6" y2="1404.1"/>
<path class="mk" d="M733 1397.9L738.4 1404.1L733 1410.3L727.6 1404.1z"/>
<text class="t" x="771.7" y="1412.6" textLength="84.3" lengthAdjust="spacingAndGlyphs">–0.8 m</text>
<line class="lg" x1="708.2" y1="1433.3" x2="758.6" y2="1433.3"/>
<path class="mk" d="M727.4 1433.3L737.6 1427.1L737.6 1439.5z"/>
<text class="t" x="771.7" y="1441.8" textLength="84.3" lengthAdjust="spacingAndGlyphs">–0.9 m</text>
<text class="yk" transform="translate(193 1545.2) rotate(-90)"><tspan x="-1 29.1 59.2 89.3 119.4 149.5 179.6" y="0">水质量转换系数</tspan><tspan class="t3" x="207.4" y="0">/</tspan><tspan class="yp" x="202.6" y="0">（</tspan><tspan class="t3" x="227.3" y="0">1</tspan><tspan class="t3" x="242.9" y="0">·</tspan><tspan class="t3" x="252.5" y="0">h</tspan><tspan class="t4" x="267.6" y="-11">−</tspan><tspan class="t4" x="279.3" y="-11">1</tspan><tspan class="yp" x="290.5" y="0">）</tspan></text>
<text class="c" y="1701.3" x="582.7 611.2 640.2 648.7">时间<tspan class="t2">/h</tspan></text>
<text class="c" y="1741.3" x="494.5 527 546.8">（<tspan class="t2">e</tspan>）</text>
<text class="c" y="1741.3" x="572.7 603.3 633.9 664.5">水转换率</text>
<path class="ax" d="M1207 1187.6V1633.1H1877.2"/>
<path class="ax" d="M1290.7 1633.1v-10M1374.3 1633.1v-10M1458 1633.1v-10M1541.6 1633.1v-10M1625.2 1633.1v-10M1708.9 1633.1v-10M1792.6 1633.1v-10M1876.2 1633.1v-10M1207 1188.6h10M1207 1337.1h10M1207 1485.6h10"/>
<text class="t m" x="1210" y="1664">0</text>
<text class="t m" x="1293.7" y="1664">50</text>
<text class="t m" x="1377.3" y="1664">100</text>
<text class="t m" x="1461" y="1664">150</text>
<text class="t m" x="1544.6" y="1664">200</text>
<text class="t m" x="1628.2" y="1664">250</text>
<text class="t m" x="1711.9" y="1664">300</text>
<text class="t m" x="1795.6" y="1664">350</text>
<text class="t m" x="1879.2" y="1664">400</text>
<text class="t e ls" x="1197.7" y="1201">0.002</text>
<text class="t e ls" x="1197.7" y="1347.3">0.001</text>
<text class="t e ls" x="1197.7" y="1493.7">0</text>
<text class="t e ls" x="1197.7" y="1640">–0.001</text>
<polyline class="ln" points="1208.8,1485.5 1225.5,1540.1 1242.3,1502.7 1259,1510.8 1275.7,1516.4 1292.5,1517.2 1309.2,1517.9 1325.9,1523.9 1342.6,1521.9 1359.4,1518.9 1376.1,1538.7 1392.8,1529 1409.6,1531 1426.3,1532.4 1443,1530.6 1459.8,1557.9 1476.5,1575.5 1493.2,1562.3 1509.9,1552.2 1526.7,1526.3 1543.4,1522.5 1560.1,1523.9 1576.9,1527 1593.6,1520.9 1610.3,1520.9 1627,1538.1 1643.8,1543.1 1660.5,1527 1677.2,1520.9 1694,1519.9 1710.7,1519.9 1727.4,1519.9 1744.2,1519.9 1760.9,1519.9 1777.6,1519.9 1794.3,1519.9 1811.1,1519.9 1827.8,1519.9 1844.5,1519.9 1861.3,1519.9 1878,1519.9"/>
<polyline class="ln" points="1208.8,1485.5 1225.5,1485.5 1242.3,1485.5 1259,1485.5 1275.7,1485.5 1292.5,1482 1309.2,1477.4 1325.9,1473.4 1342.6,1412.3 1359.4,1400.5 1376.1,1418.7 1392.8,1380.9 1409.6,1520.9 1426.3,1520.3 1443,1520.3 1459.8,1519.9 1476.5,1520.5 1493.2,1547.2 1509.9,1548.2 1526.7,1546.8 1543.4,1548.2 1560.1,1549.2 1576.9,1542.1 1593.6,1555.7 1610.3,1551.2 1627,1554.3 1643.8,1570.8 1660.5,1537 1677.2,1535 1694,1532 1710.7,1532 1727.4,1523.9 1744.2,1521.9 1760.9,1522.9 1777.6,1522.9 1794.3,1520.9 1811.1,1520.5 1827.8,1521 1844.5,1521 1861.3,1521 1878,1521"/>
<polyline class="ln" points="1208.8,1485.5 1225.5,1485.5 1242.3,1485.5 1259,1485.5 1275.7,1485.5 1292.5,1485.5 1309.2,1485.5 1325.9,1485.5 1342.6,1485.5 1359.4,1472.4 1376.1,1440 1392.8,1366.2 1409.6,1308.5 1426.3,1321.7 1443,1324.7 1459.8,1367.2 1476.5,1309.1 1493.2,1322.7 1509.9,1367.2 1526.7,1308.5 1543.4,1322.4 1560.1,1363 1576.9,1375 1593.6,1367.5 1610.3,1374.6 1627,1409 1643.8,1434.7 1660.5,1536 1677.2,1523.9 1694,1521.9 1710.7,1520.9 1727.4,1521.9 1744.2,1521.9 1760.9,1537.1 1777.6,1549.2 1794.3,1532 1811.1,1538.1 1827.8,1522.9 1844.5,1521.9 1861.3,1521.9 1878,1521.9"/>
<polyline class="ln" points="1208.8,1485.5 1225.5,1485.5 1242.3,1485.5 1259,1480.4 1275.7,1472.4 1292.5,1465.8 1309.2,1460.7 1325.9,1456.7 1342.6,1457.2 1359.4,1455.2 1376.1,1436.9 1392.8,1395.5 1409.6,1358.1 1426.3,1357.1 1443,1358.1 1459.8,1294.4 1476.5,1267.1 1493.2,1285.3 1509.9,1305.5 1526.7,1324.7 1543.4,1298.3 1560.1,1312.7 1576.9,1321.8 1593.6,1358.4 1610.3,1319 1627,1318 1643.8,1281.6 1660.5,1331.1 1677.2,1282.6 1694,1330.7 1710.7,1317 1727.4,1366.5 1744.2,1376.6 1760.9,1392.8 1777.6,1453 1794.3,1500.8 1811.1,1510 1827.8,1514.5 1844.5,1521.5 1861.3,1527 1878,1523.9"/>
<polyline class="ln" points="1208.8,1485.5 1225.5,1485.5 1242.3,1485.5 1259,1485.5 1275.7,1485.5 1292.5,1485.5 1309.2,1485.5 1325.9,1485.5 1342.6,1485.5 1359.4,1485.5 1376.1,1485.5 1392.8,1485.5 1409.6,1485.5 1426.3,1485.5 1443,1457.7 1459.8,1456.1 1476.5,1454.5 1493.2,1440 1509.9,1395.1 1526.7,1357.7 1543.4,1357.2 1560.1,1360.2 1576.9,1294.5 1593.6,1320 1610.3,1331.7 1627,1322 1643.8,1279.5 1660.5,1307.9 1677.2,1292.3 1694,1293.3 1710.7,1340.8 1727.4,1376 1744.2,1364.9 1760.9,1375.2 1777.6,1379.2 1794.3,1416 1811.1,1454.1 1827.8,1499.6 1844.5,1521.5 1861.3,1522.5 1878,1524.5"/>
<polyline class="ln" points="1208.8,1485.5 1225.5,1485.5 1242.3,1485.5 1259,1485.5 1275.7,1485.5 1292.5,1485.5 1309.2,1485.5 1325.9,1485.5 1342.6,1485.5 1359.4,1485.5 1376.1,1485.5 1392.8,1485.5 1409.6,1485.5 1426.3,1485.5 1443,1485.5 1459.8,1485.5 1476.5,1485.5 1493.2,1485.5 1509.9,1485.5 1526.7,1485.5 1543.4,1485.5 1560.1,1485.5 1576.9,1485.5 1593.6,1485.5 1610.3,1485.5 1627,1485.5 1643.8,1485.5 1660.5,1485.5 1677.2,1485.5 1694,1485.5 1710.7,1485.5 1727.4,1485.5 1744.2,1485.5 1760.9,1485.5 1777.6,1485.5 1794.3,1485.5 1811.1,1485.5 1827.8,1485.5 1844.5,1485.5 1861.3,1485.5 1878,1485.5"/>
<path class="mk" d="M1204 1480.7h9.7v9.7h-9.7zM1220.7 1535.2h9.7v9.7h-9.7zM1237.4 1497.9h9.7v9.7h-9.7zM1254.1 1506h9.7v9.7h-9.7zM1270.9 1511.6h9.7v9.7h-9.7zM1287.6 1512.4h9.7v9.7h-9.7zM1304.3 1513.1h9.7v9.7h-9.7zM1321.1 1519.1h9.7v9.7h-9.7zM1337.8 1517.1h9.7v9.7h-9.7zM1354.5 1514.1h9.7v9.7h-9.7zM1371.2 1533.9h9.7v9.7h-9.7zM1388 1524.2h9.7v9.7h-9.7zM1404.7 1526.2h9.7v9.7h-9.7zM1421.4 1527.6h9.7v9.7h-9.7zM1438.2 1525.8h9.7v9.7h-9.7zM1454.9 1553.1h9.7v9.7h-9.7zM1471.6 1570.7h9.7v9.7h-9.7zM1488.4 1557.5h9.7v9.7h-9.7zM1505.1 1547.4h9.7v9.7h-9.7zM1521.8 1521.5h9.7v9.7h-9.7zM1538.6 1517.7h9.7v9.7h-9.7zM1555.3 1519.1h9.7v9.7h-9.7zM1572 1522.2h9.7v9.7h-9.7zM1588.7 1516.1h9.7v9.7h-9.7zM1605.5 1516.1h9.7v9.7h-9.7zM1622.2 1533.2h9.7v9.7h-9.7zM1638.9 1538.2h9.7v9.7h-9.7zM1655.7 1522.2h9.7v9.7h-9.7zM1672.4 1516.1h9.7v9.7h-9.7zM1689.1 1515.1h9.7v9.7h-9.7zM1705.8 1515.1h9.7v9.7h-9.7zM1722.6 1515.1h9.7v9.7h-9.7zM1739.3 1515.1h9.7v9.7h-9.7zM1756 1515.1h9.7v9.7h-9.7zM1772.8 1515.1h9.7v9.7h-9.7zM1789.5 1515.1h9.7v9.7h-9.7zM1806.2 1515.1h9.7v9.7h-9.7zM1823 1515.1h9.7v9.7h-9.7zM1839.7 1515.1h9.7v9.7h-9.7zM1856.4 1515.1h9.7v9.7h-9.7zM1873.2 1515.1h9.7v9.7h-9.7z"/>
<path class="mk" d="M1202.9 1485.5a5.9 5.9 0 1 0 11.8 0a5.9 5.9 0 1 0 -11.8 0zM1219.6 1485.5a5.9 5.9 0 1 0 11.8 0a5.9 5.9 0 1 0 -11.8 0zM1236.4 1485.5a5.9 5.9 0 1 0 11.8 0a5.9 5.9 0 1 0 -11.8 0zM1253.1 1485.5a5.9 5.9 0 1 0 11.8 0a5.9 5.9 0 1 0 -11.8 0zM1269.8 1485.5a5.9 5.9 0 1 0 11.8 0a5.9 5.9 0 1 0 -11.8 0zM1286.5 1482a5.9 5.9 0 1 0 11.8 0a5.9 5.9 0 1 0 -11.8 0zM1303.3 1477.4a5.9 5.9 0 1 0 11.8 0a5.9 5.9 0 1 0 -11.8 0zM1320 1473.4a5.9 5.9 0 1 0 11.8 0a5.9 5.9 0 1 0 -11.8 0zM1336.7 1412.3a5.9 5.9 0 1 0 11.8 0a5.9 5.9 0 1 0 -11.8 0zM1353.5 1400.5a5.9 5.9 0 1 0 11.8 0a5.9 5.9 0 1 0 -11.8 0zM1370.2 1418.7a5.9 5.9 0 1 0 11.8 0a5.9 5.9 0 1 0 -11.8 0zM1386.9 1380.9a5.9 5.9 0 1 0 11.8 0a5.9 5.9 0 1 0 -11.8 0zM1403.7 1520.9a5.9 5.9 0 1 0 11.8 0a5.9 5.9 0 1 0 -11.8 0zM1420.4 1520.3a5.9 5.9 0 1 0 11.8 0a5.9 5.9 0 1 0 -11.8 0zM1437.1 1520.3a5.9 5.9 0 1 0 11.8 0a5.9 5.9 0 1 0 -11.8 0zM1453.8 1519.9a5.9 5.9 0 1 0 11.8 0a5.9 5.9 0 1 0 -11.8 0zM1470.6 1520.5a5.9 5.9 0 1 0 11.8 0a5.9 5.9 0 1 0 -11.8 0zM1487.3 1547.2a5.9 5.9 0 1 0 11.8 0a5.9 5.9 0 1 0 -11.8 0zM1504 1548.2a5.9 5.9 0 1 0 11.8 0a5.9 5.9 0 1 0 -11.8 0zM1520.8 1546.8a5.9 5.9 0 1 0 11.8 0a5.9 5.9 0 1 0 -11.8 0zM1537.5 1548.2a5.9 5.9 0 1 0 11.8 0a5.9 5.9 0 1 0 -11.8 0zM1554.2 1549.2a5.9 5.9 0 1 0 11.8 0a5.9 5.9 0 1 0 -11.8 0zM1571 1542.1a5.9 5.9 0 1 0 11.8 0a5.9 5.9 0 1 0 -11.8 0zM1587.7 1555.7a5.9 5.9 0 1 0 11.8 0a5.9 5.9 0 1 0 -11.8 0zM1604.4 1551.2a5.9 5.9 0 1 0 11.8 0a5.9 5.9 0 1 0 -11.8 0zM1621.1 1554.3a5.9 5.9 0 1 0 11.8 0a5.9 5.9 0 1 0 -11.8 0zM1637.9 1570.8a5.9 5.9 0 1 0 11.8 0a5.9 5.9 0 1 0 -11.8 0zM1654.6 1537a5.9 5.9 0 1 0 11.8 0a5.9 5.9 0 1 0 -11.8 0zM1671.3 1535a5.9 5.9 0 1 0 11.8 0a5.9 5.9 0 1 0 -11.8 0zM1688.1 1532a5.9 5.9 0 1 0 11.8 0a5.9 5.9 0 1 0 -11.8 0zM1704.8 1532a5.9 5.9 0 1 0 11.8 0a5.9 5.9 0 1 0 -11.8 0zM1721.5 1523.9a5.9 5.9 0 1 0 11.8 0a5.9 5.9 0 1 0 -11.8 0zM1738.3 1521.9a5.9 5.9 0 1 0 11.8 0a5.9 5.9 0 1 0 -11.8 0zM1755 1522.9a5.9 5.9 0 1 0 11.8 0a5.9 5.9 0 1 0 -11.8 0zM1771.7 1522.9a5.9 5.9 0 1 0 11.8 0a5.9 5.9 0 1 0 -11.8 0zM1788.4 1520.9a5.9 5.9 0 1 0 11.8 0a5.9 5.9 0 1 0 -11.8 0zM1805.2 1520.5a5.9 5.9 0 1 0 11.8 0a5.9 5.9 0 1 0 -11.8 0zM1821.9 1521a5.9 5.9 0 1 0 11.8 0a5.9 5.9 0 1 0 -11.8 0zM1838.6 1521a5.9 5.9 0 1 0 11.8 0a5.9 5.9 0 1 0 -11.8 0zM1855.4 1521a5.9 5.9 0 1 0 11.8 0a5.9 5.9 0 1 0 -11.8 0zM1872.1 1521a5.9 5.9 0 1 0 11.8 0a5.9 5.9 0 1 0 -11.8 0z"/>
<path class="mk" d="M1208.8 1479L1214.8 1491.4L1202.8 1491.4zM1225.5 1479L1231.5 1491.4L1219.5 1491.4zM1242.3 1479L1248.3 1491.4L1236.3 1491.4zM1259 1479L1265 1491.4L1253 1491.4zM1275.7 1479L1281.7 1491.4L1269.7 1491.4zM1292.5 1479L1298.5 1491.4L1286.5 1491.4zM1309.2 1479L1315.2 1491.4L1303.2 1491.4zM1325.9 1479L1331.9 1491.4L1319.9 1491.4zM1342.6 1479L1348.6 1491.4L1336.6 1491.4zM1359.4 1465.9L1365.4 1478.3L1353.4 1478.3zM1376.1 1433.5L1382.1 1445.9L1370.1 1445.9zM1392.8 1359.7L1398.8 1372.1L1386.8 1372.1zM1409.6 1302L1415.6 1314.4L1403.6 1314.4zM1426.3 1315.2L1432.3 1327.6L1420.3 1327.6zM1443 1318.2L1449 1330.6L1437 1330.6zM1459.8 1360.7L1465.8 1373.1L1453.8 1373.1zM1476.5 1302.6L1482.5 1315L1470.5 1315zM1493.2 1316.2L1499.2 1328.6L1487.2 1328.6zM1509.9 1360.7L1515.9 1373.1L1503.9 1373.1zM1526.7 1302L1532.7 1314.4L1520.7 1314.4zM1543.4 1315.9L1549.4 1328.3L1537.4 1328.3zM1560.1 1356.5L1566.1 1368.9L1554.1 1368.9zM1576.9 1368.5L1582.9 1380.9L1570.9 1380.9zM1593.6 1361L1599.6 1373.4L1587.6 1373.4zM1610.3 1368.1L1616.3 1380.5L1604.3 1380.5zM1627 1402.5L1633 1414.9L1621 1414.9zM1643.8 1428.2L1649.8 1440.6L1637.8 1440.6zM1660.5 1529.5L1666.5 1541.9L1654.5 1541.9zM1677.2 1517.4L1683.2 1529.8L1671.2 1529.8zM1694 1515.4L1700 1527.8L1688 1527.8zM1710.7 1514.4L1716.7 1526.8L1704.7 1526.8zM1727.4 1515.4L1733.4 1527.8L1721.4 1527.8zM1744.2 1515.4L1750.2 1527.8L1738.2 1527.8zM1760.9 1530.6L1766.9 1543L1754.9 1543zM1777.6 1542.7L1783.6 1555.1L1771.6 1555.1zM1794.3 1525.5L1800.3 1537.9L1788.3 1537.9zM1811.1 1531.6L1817.1 1544L1805.1 1544zM1827.8 1516.4L1833.8 1528.8L1821.8 1528.8zM1844.5 1515.4L1850.5 1527.8L1838.5 1527.8zM1861.3 1515.4L1867.3 1527.8L1855.3 1527.8zM1878 1515.4L1884 1527.8L1872 1527.8z"/>
<path class="mk" d="M1208.8 1492L1214.8 1479.6L1202.8 1479.6zM1225.5 1492L1231.5 1479.6L1219.5 1479.6zM1242.3 1492L1248.3 1479.6L1236.3 1479.6zM1259 1486.9L1265 1474.5L1253 1474.5zM1275.7 1478.9L1281.7 1466.5L1269.7 1466.5zM1292.5 1472.3L1298.5 1459.9L1286.5 1459.9zM1309.2 1467.2L1315.2 1454.8L1303.2 1454.8zM1325.9 1463.2L1331.9 1450.8L1319.9 1450.8zM1342.6 1463.7L1348.6 1451.3L1336.6 1451.3zM1359.4 1461.7L1365.4 1449.3L1353.4 1449.3zM1376.1 1443.4L1382.1 1431L1370.1 1431zM1392.8 1402L1398.8 1389.6L1386.8 1389.6zM1409.6 1364.6L1415.6 1352.2L1403.6 1352.2zM1426.3 1363.6L1432.3 1351.2L1420.3 1351.2zM1443 1364.6L1449 1352.2L1437 1352.2zM1459.8 1300.9L1465.8 1288.5L1453.8 1288.5zM1476.5 1273.6L1482.5 1261.2L1470.5 1261.2zM1493.2 1291.8L1499.2 1279.4L1487.2 1279.4zM1509.9 1312L1515.9 1299.6L1503.9 1299.6zM1526.7 1331.2L1532.7 1318.8L1520.7 1318.8zM1543.4 1304.8L1549.4 1292.4L1537.4 1292.4zM1560.1 1319.2L1566.1 1306.8L1554.1 1306.8zM1576.9 1328.3L1582.9 1315.9L1570.9 1315.9zM1593.6 1364.9L1599.6 1352.5L1587.6 1352.5zM1610.3 1325.5L1616.3 1313.1L1604.3 1313.1zM1627 1324.5L1633 1312.1L1621 1312.1zM1643.8 1288.1L1649.8 1275.7L1637.8 1275.7zM1660.5 1337.6L1666.5 1325.2L1654.5 1325.2zM1677.2 1289.1L1683.2 1276.7L1671.2 1276.7zM1694 1337.2L1700 1324.8L1688 1324.8zM1710.7 1323.5L1716.7 1311.1L1704.7 1311.1zM1727.4 1373L1733.4 1360.6L1721.4 1360.6zM1744.2 1383.1L1750.2 1370.7L1738.2 1370.7zM1760.9 1399.3L1766.9 1386.9L1754.9 1386.9zM1777.6 1459.5L1783.6 1447.1L1771.6 1447.1zM1794.3 1507.3L1800.3 1494.9L1788.3 1494.9zM1811.1 1516.5L1817.1 1504.1L1805.1 1504.1zM1827.8 1521L1833.8 1508.6L1821.8 1508.6zM1844.5 1528L1850.5 1515.6L1838.5 1515.6zM1861.3 1533.5L1867.3 1521.1L1855.3 1521.1zM1878 1530.4L1884 1518L1872 1518z"/>
<path class="mk" d="M1208.8 1479.3L1214.1 1485.5L1208.8 1491.7L1203.5 1485.5zM1225.5 1479.3L1230.9 1485.5L1225.5 1491.7L1220.2 1485.5zM1242.3 1479.3L1247.6 1485.5L1242.3 1491.7L1236.9 1485.5zM1259 1479.3L1264.3 1485.5L1259 1491.7L1253.6 1485.5zM1275.7 1479.3L1281.1 1485.5L1275.7 1491.7L1270.4 1485.5zM1292.5 1479.3L1297.8 1485.5L1292.5 1491.7L1287.1 1485.5zM1309.2 1479.3L1314.5 1485.5L1309.2 1491.7L1303.8 1485.5zM1325.9 1479.3L1331.3 1485.5L1325.9 1491.7L1320.6 1485.5zM1342.6 1479.3L1348 1485.5L1342.6 1491.7L1337.3 1485.5zM1359.4 1479.3L1364.7 1485.5L1359.4 1491.7L1354 1485.5zM1376.1 1479.3L1381.4 1485.5L1376.1 1491.7L1370.8 1485.5zM1392.8 1479.3L1398.2 1485.5L1392.8 1491.7L1387.5 1485.5zM1409.6 1479.3L1414.9 1485.5L1409.6 1491.7L1404.2 1485.5zM1426.3 1479.3L1431.6 1485.5L1426.3 1491.7L1420.9 1485.5zM1443 1451.5L1448.4 1457.7L1443 1463.9L1437.7 1457.7zM1459.8 1449.9L1465.1 1456.1L1459.8 1462.3L1454.4 1456.1zM1476.5 1448.3L1481.8 1454.5L1476.5 1460.7L1471.1 1454.5zM1493.2 1433.8L1498.6 1440L1493.2 1446.2L1487.9 1440zM1509.9 1388.9L1515.3 1395.1L1509.9 1401.3L1504.6 1395.1zM1526.7 1351.5L1532 1357.7L1526.7 1363.9L1521.3 1357.7zM1543.4 1351L1548.8 1357.2L1543.4 1363.4L1538.1 1357.2zM1560.1 1354L1565.5 1360.2L1560.1 1366.4L1554.8 1360.2zM1576.9 1288.3L1582.2 1294.5L1576.9 1300.7L1571.5 1294.5zM1593.6 1313.8L1598.9 1320L1593.6 1326.2L1588.2 1320zM1610.3 1325.5L1615.7 1331.7L1610.3 1337.9L1605 1331.7zM1627 1315.8L1632.4 1322L1627 1328.2L1621.7 1322zM1643.8 1273.3L1649.1 1279.5L1643.8 1285.7L1638.4 1279.5zM1660.5 1301.7L1665.9 1307.9L1660.5 1314.1L1655.2 1307.9zM1677.2 1286.1L1682.6 1292.3L1677.2 1298.5L1671.9 1292.3zM1694 1287.1L1699.3 1293.3L1694 1299.5L1688.6 1293.3zM1710.7 1334.6L1716 1340.8L1710.7 1347L1705.3 1340.8zM1727.4 1369.8L1732.8 1376L1727.4 1382.2L1722.1 1376zM1744.2 1358.7L1749.5 1364.9L1744.2 1371.1L1738.8 1364.9zM1760.9 1369L1766.2 1375.2L1760.9 1381.4L1755.5 1375.2zM1777.6 1373L1783 1379.2L1777.6 1385.4L1772.3 1379.2zM1794.3 1409.8L1799.7 1416L1794.3 1422.2L1789 1416zM1811.1 1447.9L1816.4 1454.1L1811.1 1460.3L1805.7 1454.1zM1827.8 1493.4L1833.2 1499.6L1827.8 1505.8L1822.5 1499.6zM1844.5 1515.3L1849.9 1521.5L1844.5 1527.7L1839.2 1521.5zM1861.3 1516.3L1866.6 1522.5L1861.3 1528.7L1855.9 1522.5zM1878 1518.3L1883.3 1524.5L1878 1530.7L1872.7 1524.5z"/>
<path class="mk" d="M1203.2 1485.5L1213.4 1479.3L1213.4 1491.7zM1219.9 1485.5L1230.1 1479.3L1230.1 1491.7zM1236.7 1485.5L1246.9 1479.3L1246.9 1491.7zM1253.4 1485.5L1263.6 1479.3L1263.6 1491.7zM1270.1 1485.5L1280.3 1479.3L1280.3 1491.7zM1286.9 1485.5L1297 1479.3L1297 1491.7zM1303.6 1485.5L1313.8 1479.3L1313.8 1491.7zM1320.3 1485.5L1330.5 1479.3L1330.5 1491.7zM1337 1485.5L1347.2 1479.3L1347.2 1491.7zM1353.8 1485.5L1364 1479.3L1364 1491.7zM1370.5 1485.5L1380.7 1479.3L1380.7 1491.7zM1387.2 1485.5L1397.4 1479.3L1397.4 1491.7zM1404 1485.5L1414.2 1479.3L1414.2 1491.7zM1420.7 1485.5L1430.9 1479.3L1430.9 1491.7zM1437.4 1485.5L1447.6 1479.3L1447.6 1491.7zM1454.2 1485.5L1464.3 1479.3L1464.3 1491.7zM1470.9 1485.5L1481.1 1479.3L1481.1 1491.7zM1487.6 1485.5L1497.8 1479.3L1497.8 1491.7zM1504.3 1485.5L1514.5 1479.3L1514.5 1491.7zM1521.1 1485.5L1531.3 1479.3L1531.3 1491.7zM1537.8 1485.5L1548 1479.3L1548 1491.7zM1554.5 1485.5L1564.7 1479.3L1564.7 1491.7zM1571.3 1485.5L1581.5 1479.3L1581.5 1491.7zM1588 1485.5L1598.2 1479.3L1598.2 1491.7zM1604.7 1485.5L1614.9 1479.3L1614.9 1491.7zM1621.5 1485.5L1631.6 1479.3L1631.6 1491.7zM1638.2 1485.5L1648.4 1479.3L1648.4 1491.7zM1654.9 1485.5L1665.1 1479.3L1665.1 1491.7zM1671.6 1485.5L1681.8 1479.3L1681.8 1491.7zM1688.4 1485.5L1698.6 1479.3L1698.6 1491.7zM1705.1 1485.5L1715.3 1479.3L1715.3 1491.7zM1721.8 1485.5L1732 1479.3L1732 1491.7zM1738.6 1485.5L1748.8 1479.3L1748.8 1491.7zM1755.3 1485.5L1765.5 1479.3L1765.5 1491.7zM1772 1485.5L1782.2 1479.3L1782.2 1491.7zM1788.8 1485.5L1798.9 1479.3L1798.9 1491.7zM1805.5 1485.5L1815.7 1479.3L1815.7 1491.7zM1822.2 1485.5L1832.4 1479.3L1832.4 1491.7zM1838.9 1485.5L1849.1 1479.3L1849.1 1491.7zM1855.7 1485.5L1865.9 1479.3L1865.9 1491.7zM1872.4 1485.5L1882.6 1479.3L1882.6 1491.7z"/>
<line class="lg" x1="1224.1" y1="1217.5" x2="1274.6" y2="1217.5"/>
<path class="mk" d="M1244.6 1212.7h9.7v9.7h-9.7z"/>
<text class="t" x="1285.2" y="1226.6" textLength="44.3" lengthAdjust="spacingAndGlyphs">0 m</text>
<line class="lg" x1="1224.1" y1="1247.9" x2="1274.6" y2="1247.9"/>
<path class="mk" d="M1243.5 1247.9a5.9 5.9 0 1 0 11.8 0a5.9 5.9 0 1 0 -11.8 0z"/>
<text class="t" x="1285.2" y="1257" textLength="84.3" lengthAdjust="spacingAndGlyphs">–0.2 m</text>
<line class="lg" x1="1224.1" y1="1276.2" x2="1274.6" y2="1276.2"/>
<path class="mk" d="M1249.4 1269.7L1255.4 1282.1L1243.4 1282.1z"/>
<text class="t" x="1285.2" y="1285.3" textLength="84.3" lengthAdjust="spacingAndGlyphs">–0.4 m</text>
<line class="lg" x1="1224.1" y1="1305.1" x2="1274.6" y2="1305.1"/>
<path class="mk" d="M1249.4 1311.6L1255.4 1299.2L1243.4 1299.2z"/>
<text class="t" x="1285.2" y="1314.2" textLength="84.3" lengthAdjust="spacingAndGlyphs">–0.6 m</text>
<line class="lg" x1="1224.1" y1="1335.4" x2="1274.6" y2="1335.4"/>
<path class="mk" d="M1249.4 1329.2L1254.8 1335.4L1249.4 1341.6L1244.1 1335.4z"/>
<text class="t" x="1285.2" y="1344.5" textLength="84.3" lengthAdjust="spacingAndGlyphs">–0.8 m</text>
<line class="lg" x1="1224.1" y1="1364.5" x2="1274.6" y2="1364.5"/>
<path class="mk" d="M1243.8 1364.5L1254 1358.3L1254 1370.7z"/>
<text class="t" x="1285.2" y="1373.6" textLength="84.3" lengthAdjust="spacingAndGlyphs">–0.9 m</text>
<text class="yk" transform="translate(1107.2 1556.2) rotate(-90)"><tspan x="-1 29.8 60.5 91.3 122.1 152.9 183.6" y="0">水质量转换系数</tspan><tspan class="t3" x="212" y="0">/</tspan><tspan class="yp" x="207.1" y="0">（</tspan><tspan class="t3" x="232.4" y="0">1</tspan><tspan class="t3" x="248.3" y="0">·</tspan><tspan class="t3" x="258.1" y="0">h</tspan><tspan class="t4" x="273.6" y="-11">−</tspan><tspan class="t4" x="285.5" y="-11">1</tspan><tspan class="yp" x="297" y="0">）</tspan></text>
<text class="c" y="1700.4" x="1510 1538.5 1567.5 1576">时间<tspan class="t2">/h</tspan></text>
<text class="c" y="1740.4" x="1443.5 1476 1490.4">（<tspan class="t2">f</tspan>）</text>
<text class="c" y="1740.4" x="1511.9 1542.3 1572.7 1603.1">水转换率</text>
<text class="c" style="font-size:28.5px" y="1788.3" x="88 117.8 147.6 177.4 207.2 237 266.8 296.6 326.4 356.2 386 415.8 445.6 475.4 505.2 535 564.8 594.6 624.4 654.2 684 713.8 743.6 773.4 803.2 833 862.8 892.6 922.4 952.2 982">注：优势流转换到基质流的流量为正，基质流转换到优势流的流量为负</text>
</svg>
</body></html>
